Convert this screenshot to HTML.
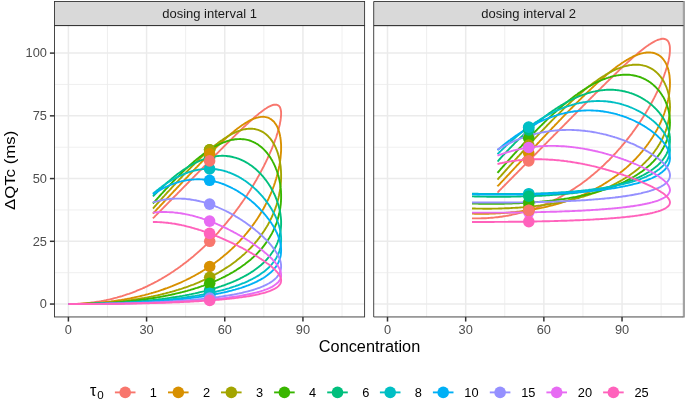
<!DOCTYPE html>
<html><head><meta charset="utf-8"><title>plot</title>
<style>
html,body{margin:0;padding:0;background:#fff;}
svg{display:block;will-change:transform;font-family:"Liberation Sans",sans-serif;}
.ax{font-size:12.8px;fill:#4D4D4D;}
.st{font-size:13px;fill:#1A1A1A;}
.lg{font-size:12.8px;fill:#000;}
.tt{font-size:16px;fill:#000;}
</style></head><body>
<svg width="685" height="400" viewBox="0 0 685 400">
<rect x="0" y="0" width="685" height="400" fill="#fff"/>
<defs>
<clipPath id="c1"><rect x="54.50" y="25.60" width="310.10" height="291.35"/></clipPath>
<clipPath id="c2"><rect x="373.70" y="25.60" width="309.80" height="291.35"/></clipPath>
</defs>
<g stroke="#EBEBEB" fill="none"><line x1="54.50" x2="364.60" y1="272.68" y2="272.68" stroke-width="0.78"/>
<line x1="54.50" x2="364.60" y1="209.94" y2="209.94" stroke-width="0.78"/>
<line x1="54.50" x2="364.60" y1="147.21" y2="147.21" stroke-width="0.78"/>
<line x1="54.50" x2="364.60" y1="84.47" y2="84.47" stroke-width="0.78"/>
<line x1="107.49" x2="107.49" y1="25.60" y2="316.95" stroke-width="0.78"/>
<line x1="185.67" x2="185.67" y1="25.60" y2="316.95" stroke-width="0.78"/>
<line x1="263.85" x2="263.85" y1="25.60" y2="316.95" stroke-width="0.78"/>
<line x1="342.03" x2="342.03" y1="25.60" y2="316.95" stroke-width="0.78"/>
<line x1="54.50" x2="364.60" y1="304.05" y2="304.05" stroke-width="1.5"/>
<line x1="54.50" x2="364.60" y1="241.31" y2="241.31" stroke-width="1.5"/>
<line x1="54.50" x2="364.60" y1="178.57" y2="178.57" stroke-width="1.5"/>
<line x1="54.50" x2="364.60" y1="115.84" y2="115.84" stroke-width="1.5"/>
<line x1="54.50" x2="364.60" y1="53.10" y2="53.10" stroke-width="1.5"/>
<line x1="68.40" x2="68.40" y1="25.60" y2="316.95" stroke-width="1.5"/>
<line x1="146.58" x2="146.58" y1="25.60" y2="316.95" stroke-width="1.5"/>
<line x1="224.76" x2="224.76" y1="25.60" y2="316.95" stroke-width="1.5"/>
<line x1="302.94" x2="302.94" y1="25.60" y2="316.95" stroke-width="1.5"/></g>
<g clip-path="url(#c1)" fill="none" stroke-width="1.89" stroke-linejoin="round" stroke-linecap="butt"><path d="M68.4 304.1 L69.9 304.0 L71.3 304.0 L72.7 304.0 L74.2 304.0 L75.6 303.9 L77.0 303.9 L78.4 303.8 L79.8 303.7 L81.2 303.6 L82.6 303.5 L83.9 303.4 L85.3 303.3 L86.6 303.2 L88.0 303.0 L89.3 302.9 L90.7 302.7 L92.0 302.5 L93.3 302.4 L94.6 302.2 L95.9 302.0 L97.2 301.8 L98.5 301.6 L99.7 301.4 L101.0 301.2 L102.3 300.9 L103.5 300.7 L104.8 300.4 L106.0 300.2 L107.2 299.9 L108.5 299.6 L109.7 299.4 L110.9 299.1 L112.1 298.8 L113.3 298.5 L114.4 298.2 L115.6 297.9 L116.8 297.6 L118.0 297.2 L119.1 296.9 L120.6 296.5 L122.0 296.1 L123.4 295.6 L124.8 295.2 L126.2 294.7 L127.6 294.2 L128.9 293.8 L130.3 293.3 L131.7 292.8 L133.0 292.3 L134.3 291.8 L135.6 291.3 L136.9 290.7 L138.2 290.2 L139.5 289.7 L140.8 289.1 L142.1 288.6 L143.3 288.0 L144.6 287.5 L145.8 286.9 L147.1 286.3 L148.3 285.7 L149.5 285.1 L150.7 284.5 L151.9 283.9 L153.1 283.3 L154.3 282.7 L155.4 282.1 L156.6 281.5 L157.7 280.9 L158.9 280.2 L160.0 279.6 L161.1 279.0 L162.2 278.3 L163.3 277.7 L164.4 277.0 L165.5 276.4 L166.6 275.7 L167.7 275.0 L168.7 274.4 L169.8 273.7 L170.8 273.0 L171.9 272.3 L172.9 271.7 L173.9 271.0 L174.9 270.3 L175.9 269.6 L176.9 268.9 L177.9 268.2 L178.9 267.5 L180.1 266.7 L181.2 265.8 L182.4 265.0 L183.5 264.1 L184.6 263.3 L185.8 262.4 L186.9 261.6 L188.0 260.7 L189.0 259.8 L190.1 259.0 L191.2 258.1 L192.2 257.2 L193.3 256.4 L194.3 255.5 L195.3 254.6 L196.3 253.8 L197.3 252.9 L198.3 252.0 L199.3 251.1 L200.3 250.2 L201.2 249.4 L202.2 248.5 L203.1 247.6 L204.1 246.7 L205.0 245.8 L205.9 245.0 L206.8 244.1 L207.7 243.2 L208.6 242.3 L209.5 241.4 L210.4 240.6 L211.3 239.7 L212.1 238.8 L213.0 237.9 L213.8 237.1 L214.6 236.2 L215.5 235.3 L216.4 234.3 L217.4 233.3 L218.3 232.3 L219.2 231.2 L220.1 230.2 L221.0 229.2 L221.9 228.2 L222.8 227.2 L223.6 226.2 L224.5 225.2 L225.3 224.2 L226.2 223.2 L227.0 222.2 L227.8 221.2 L228.6 220.2 L229.4 219.2 L230.2 218.3 L231.0 217.3 L231.8 216.3 L232.5 215.3 L233.3 214.4 L234.0 213.4 L234.8 212.4 L235.5 211.5 L236.3 210.4 L237.1 209.3 L237.9 208.2 L238.7 207.1 L239.5 206.1 L240.2 205.0 L241.0 203.9 L241.7 202.9 L242.5 201.8 L243.2 200.8 L243.9 199.8 L244.6 198.7 L245.3 197.7 L246.0 196.7 L246.6 195.7 L247.3 194.7 L248.0 193.5 L248.8 192.4 L249.5 191.3 L250.2 190.2 L250.9 189.1 L251.5 188.0 L252.2 186.9 L252.8 185.8 L253.5 184.8 L254.1 183.7 L254.7 182.7 L255.4 181.6 L256.0 180.5 L256.7 179.4 L257.3 178.2 L257.9 177.1 L258.6 176.0 L259.2 174.9 L259.8 173.8 L260.3 172.7 L260.9 171.7 L261.5 170.5 L262.1 169.4 L262.7 168.2 L263.3 167.1 L263.9 166.0 L264.4 164.9 L265.0 163.8 L265.5 162.6 L266.1 161.5 L266.6 160.4 L267.2 159.2 L267.7 158.1 L268.2 157.0 L268.7 155.8 L269.2 154.7 L269.7 153.6 L270.2 152.4 L270.7 151.3 L271.2 150.2 L271.7 149.0 L272.2 147.9 L272.6 146.7 L273.1 145.5 L273.5 144.4 L274.0 143.3 L274.4 142.1 L274.8 140.9 L275.2 139.8 L275.7 138.6 L276.1 137.5 L276.5 136.3 L276.8 135.1 L277.2 133.9 L277.6 132.8 L277.9 131.6 L278.3 130.4 L278.6 129.3 L278.9 128.1 L279.2 126.8 L279.5 125.6 L279.8 124.5 L280.0 123.2 L280.2 122.0 L280.5 120.8 L280.6 119.6 L280.8 118.4 L280.9 117.2 L281.0 116.0 L281.1 114.8 L281.1 113.6 L281.1 112.4 L281.0 111.2 L280.8 110.0 L280.5 108.8 L280.1 107.6 L279.5 106.6 L278.7 105.7 L277.7 105.1 L276.5 104.7 L275.3 104.6 L274.1 104.7 L272.9 105.0 L271.8 105.4 L270.7 105.9 L269.6 106.4 L268.5 106.9 L267.4 107.5 L266.4 108.2 L265.4 108.8 L264.4 109.5 L263.4 110.2 L262.4 110.9 L261.4 111.7 L260.5 112.4 L259.5 113.1 L258.6 113.9 L257.7 114.7 L256.7 115.4 L255.8 116.2 L254.9 117.0 L254.0 117.8 L253.1 118.6 L252.2 119.4 L251.3 120.2 L250.4 121.0 L249.5 121.8 L248.6 122.6 L247.7 123.5 L246.8 124.3 L245.9 125.1 L245.0 126.0 L244.1 126.8 L243.2 127.6 L242.3 128.5 L241.5 129.3 L240.6 130.2 L239.7 131.0 L238.8 131.8 L238.0 132.7 L237.1 133.5 L236.2 134.4 L235.4 135.2 L234.5 136.1 L233.6 136.9 L232.8 137.8 L231.9 138.6 L231.1 139.5 L230.2 140.3 L229.3 141.2 L228.5 142.0 L227.6 142.9 L226.8 143.7 L225.9 144.6 L225.0 145.4 L224.2 146.3 L223.3 147.1 L222.5 148.0 L221.6 148.9 L220.8 149.7 L219.9 150.6 L219.1 151.4 L218.2 152.3 L217.4 153.1 L216.5 154.0 L215.7 154.9 L214.8 155.7 L213.9 156.6 L213.1 157.4 L212.2 158.3 L211.4 159.2 L210.5 160.0 L209.7 160.9 L208.8 161.7 L208.0 162.6 L207.1 163.5 L206.3 164.3 L205.4 165.2 L204.6 166.0 L203.7 166.9 L202.9 167.8 L202.0 168.6 L201.2 169.5 L200.3 170.3 L199.5 171.2 L198.6 172.1 L197.8 172.9 L196.9 173.8 L196.1 174.6 L195.2 175.5 L194.4 176.4 L193.5 177.2 L192.7 178.1 L191.8 179.0 L191.0 179.8 L190.1 180.7 L189.3 181.5 L188.4 182.4 L187.6 183.3 L186.7 184.1 L185.9 185.0 L185.0 185.9 L184.2 186.7 L183.3 187.6 L182.5 188.4 L181.6 189.3 L180.8 190.2 L179.9 191.0 L179.1 191.9 L178.2 192.7 L177.4 193.6 L176.5 194.5 L175.7 195.3 L174.8 196.2 L174.0 197.0 L173.1 197.9 L172.3 198.8 L171.4 199.6 L170.6 200.5 L169.7 201.3 L168.9 202.2 L168.0 203.1 L167.2 203.9 L166.3 204.8 L165.5 205.6 L164.6 206.5 L163.8 207.3 L163.0 208.2 L162.1 209.1 L161.3 209.9 L160.4 210.8 L159.6 211.6 L158.7 212.5 L157.9 213.4 L157.0 214.2 L156.2 215.1 L155.3 215.9 L154.5 216.8 L153.6 217.7 L152.9 218.4" stroke="#F8766D"/>
<path d="M68.4 304.1 L69.9 304.0 L71.3 304.0 L72.7 304.0 L74.2 304.0 L75.6 304.0 L77.0 304.0 L78.4 303.9 L79.8 303.9 L81.2 303.8 L82.6 303.8 L83.9 303.7 L85.3 303.7 L86.6 303.6 L88.0 303.5 L89.3 303.4 L90.7 303.4 L92.0 303.3 L93.3 303.2 L94.6 303.1 L95.9 303.0 L97.2 302.9 L98.5 302.8 L99.7 302.7 L101.0 302.6 L102.3 302.4 L103.5 302.3 L104.8 302.2 L106.0 302.0 L107.2 301.9 L108.5 301.8 L109.7 301.6 L110.9 301.5 L112.1 301.3 L113.3 301.1 L114.7 300.9 L116.2 300.7 L117.7 300.5 L119.1 300.3 L120.6 300.1 L122.0 299.8 L123.4 299.6 L124.8 299.3 L126.2 299.1 L127.6 298.8 L128.9 298.6 L130.3 298.3 L131.7 298.0 L133.0 297.8 L134.3 297.5 L135.6 297.2 L136.9 296.9 L138.2 296.6 L139.5 296.3 L140.8 296.0 L142.1 295.7 L143.3 295.4 L144.6 295.1 L145.8 294.7 L147.1 294.4 L148.3 294.1 L149.5 293.7 L150.7 293.4 L151.9 293.0 L153.1 292.7 L154.3 292.3 L155.4 292.0 L156.6 291.6 L157.7 291.3 L159.1 290.8 L160.5 290.4 L161.8 289.9 L163.1 289.5 L164.4 289.0 L165.7 288.5 L167.0 288.1 L168.3 287.6 L169.6 287.1 L170.8 286.6 L172.1 286.1 L173.3 285.6 L174.5 285.1 L175.7 284.6 L176.9 284.1 L178.1 283.6 L179.3 283.1 L180.5 282.6 L181.6 282.1 L182.8 281.5 L183.9 281.0 L185.0 280.5 L186.1 280.0 L187.2 279.4 L188.3 278.9 L189.4 278.3 L190.5 277.8 L191.7 277.1 L192.9 276.5 L194.1 275.9 L195.3 275.2 L196.5 274.5 L197.7 273.9 L198.8 273.2 L200.0 272.6 L201.1 271.9 L202.2 271.2 L203.3 270.5 L204.4 269.9 L205.5 269.2 L206.5 268.5 L207.6 267.8 L208.6 267.1 L209.7 266.5 L210.7 265.8 L211.7 265.1 L212.7 264.4 L213.7 263.7 L214.8 262.9 L215.9 262.1 L217.0 261.3 L218.0 260.5 L219.1 259.7 L220.1 258.9 L221.1 258.1 L222.2 257.3 L223.1 256.4 L224.1 255.6 L225.1 254.8 L226.1 254.0 L227.0 253.2 L227.9 252.4 L228.9 251.6 L229.8 250.7 L230.7 249.9 L231.6 249.1 L232.5 248.2 L233.5 247.3 L234.5 246.3 L235.4 245.4 L236.3 244.5 L237.2 243.6 L238.1 242.7 L239.0 241.8 L239.9 240.8 L240.7 239.9 L241.5 239.0 L242.4 238.1 L243.2 237.2 L244.0 236.3 L244.8 235.4 L245.6 234.3 L246.5 233.3 L247.3 232.3 L248.1 231.3 L248.9 230.3 L249.7 229.3 L250.5 228.3 L251.2 227.3 L252.0 226.3 L252.7 225.3 L253.4 224.4 L254.1 223.4 L254.9 222.3 L255.6 221.2 L256.3 220.2 L257.1 219.1 L257.8 218.0 L258.4 217.0 L259.1 215.9 L259.8 214.9 L260.4 213.8 L261.0 212.8 L261.6 211.8 L262.3 210.6 L262.9 209.5 L263.6 208.4 L264.2 207.3 L264.8 206.2 L265.3 205.1 L265.9 204.0 L266.5 202.9 L267.0 201.8 L267.6 200.6 L268.2 199.5 L268.7 198.3 L269.2 197.2 L269.7 196.1 L270.2 195.0 L270.7 193.9 L271.2 192.7 L271.7 191.5 L272.1 190.4 L272.6 189.2 L273.0 188.1 L273.4 187.0 L273.9 185.8 L274.3 184.6 L274.7 183.4 L275.1 182.2 L275.4 181.1 L275.8 179.9 L276.2 178.7 L276.5 177.5 L276.9 176.3 L277.2 175.1 L277.5 173.9 L277.8 172.7 L278.1 171.5 L278.4 170.3 L278.7 169.1 L278.9 167.9 L279.1 166.7 L279.4 165.5 L279.6 164.3 L279.8 163.1 L280.0 161.8 L280.2 160.6 L280.3 159.4 L280.5 158.2 L280.6 157.0 L280.7 155.7 L280.8 154.5 L280.9 153.3 L281.0 152.1 L281.1 150.9 L281.1 149.6 L281.1 148.4 L281.1 147.2 L281.1 146.0 L281.1 144.7 L281.0 143.5 L280.9 142.3 L280.8 141.1 L280.7 139.8 L280.5 138.6 L280.4 137.4 L280.1 136.2 L279.9 135.0 L279.6 133.8 L279.3 132.6 L279.0 131.4 L278.6 130.3 L278.2 129.1 L277.8 128.0 L277.3 126.9 L276.7 125.8 L276.1 124.8 L275.4 123.7 L274.7 122.8 L274.0 121.8 L273.1 121.0 L272.2 120.2 L271.3 119.4 L270.2 118.8 L269.2 118.2 L268.0 117.7 L266.9 117.4 L265.7 117.1 L264.5 116.9 L263.3 116.8 L262.1 116.9 L260.9 116.9 L259.7 117.1 L258.5 117.3 L257.3 117.6 L256.2 117.9 L255.0 118.3 L253.9 118.7 L252.8 119.2 L251.7 119.7 L250.6 120.2 L249.5 120.7 L248.4 121.3 L247.4 121.9 L246.3 122.5 L245.3 123.1 L244.3 123.7 L243.3 124.4 L242.3 125.1 L241.3 125.8 L240.3 126.5 L239.3 127.2 L238.3 127.9 L237.4 128.6 L236.4 129.4 L235.5 130.1 L234.5 130.9 L233.6 131.7 L232.6 132.4 L231.7 133.2 L230.8 134.0 L229.9 134.8 L229.0 135.5 L228.1 136.3 L227.2 137.1 L226.3 137.9 L225.4 138.7 L224.5 139.6 L223.6 140.4 L222.7 141.2 L221.8 142.0 L220.9 142.9 L220.0 143.7 L219.2 144.5 L218.3 145.4 L217.4 146.2 L216.5 147.1 L215.7 147.9 L214.8 148.8 L213.9 149.6 L213.1 150.5 L212.2 151.3 L211.4 152.2 L210.5 153.0 L209.7 153.9 L208.8 154.7 L207.9 155.6 L207.1 156.4 L206.3 157.3 L205.4 158.2 L204.6 159.0 L203.7 159.9 L202.9 160.8 L202.0 161.6 L201.2 162.5 L200.3 163.4 L199.5 164.2 L198.7 165.1 L197.8 166.0 L197.0 166.9 L196.1 167.7 L195.3 168.6 L194.5 169.5 L193.6 170.3 L192.8 171.2 L192.0 172.1 L191.1 173.0 L190.3 173.8 L189.5 174.7 L188.6 175.6 L187.8 176.5 L187.0 177.4 L186.1 178.2 L185.3 179.1 L184.5 180.0 L183.6 180.9 L182.8 181.7 L182.0 182.6 L181.2 183.5 L180.3 184.4 L179.5 185.3 L178.7 186.1 L177.9 187.0 L177.0 187.9 L176.2 188.8 L175.4 189.7 L174.5 190.5 L173.7 191.4 L172.9 192.3 L172.1 193.2 L171.2 194.1 L170.4 194.9 L169.6 195.8 L168.8 196.7 L167.9 197.6 L167.1 198.5 L166.3 199.3 L165.5 200.2 L164.6 201.1 L163.8 202.0 L163.0 202.9 L162.2 203.8 L161.3 204.6 L160.5 205.5 L159.7 206.4 L158.9 207.3 L158.0 208.2 L157.2 209.0 L156.4 209.9 L155.6 210.8 L154.7 211.7 L153.9 212.6 L153.1 213.4 L152.9 213.6" stroke="#D89000"/>
<path d="M68.4 304.1 L69.9 304.0 L71.3 304.0 L72.7 304.0 L74.2 304.0 L75.6 304.0 L77.0 304.0 L78.4 304.0 L79.8 303.9 L81.2 303.9 L82.6 303.9 L83.9 303.8 L85.3 303.8 L86.6 303.7 L88.0 303.7 L89.3 303.6 L90.7 303.6 L92.0 303.5 L93.3 303.5 L94.6 303.4 L95.9 303.3 L97.2 303.3 L98.5 303.2 L99.7 303.1 L101.0 303.0 L102.3 303.0 L103.5 302.9 L104.8 302.8 L106.0 302.7 L107.2 302.6 L108.5 302.5 L109.7 302.4 L110.9 302.3 L112.1 302.2 L113.6 302.1 L115.0 301.9 L116.5 301.8 L118.0 301.6 L119.4 301.5 L120.8 301.3 L122.3 301.2 L123.7 301.0 L125.1 300.8 L126.5 300.6 L127.8 300.5 L129.2 300.3 L130.6 300.1 L131.9 299.9 L133.3 299.7 L134.6 299.5 L135.9 299.3 L137.2 299.1 L138.5 298.9 L139.8 298.7 L141.1 298.5 L142.3 298.3 L143.6 298.1 L144.8 297.8 L146.1 297.6 L147.3 297.4 L148.5 297.1 L149.7 296.9 L150.9 296.7 L152.1 296.4 L153.3 296.2 L154.7 295.9 L156.1 295.6 L157.5 295.3 L158.9 295.0 L160.2 294.7 L161.6 294.3 L162.9 294.0 L164.2 293.7 L165.5 293.4 L166.8 293.0 L168.1 292.7 L169.4 292.4 L170.6 292.0 L171.9 291.7 L173.1 291.3 L174.3 291.0 L175.5 290.6 L176.7 290.2 L177.9 289.9 L179.1 289.5 L180.3 289.1 L181.4 288.8 L182.6 288.4 L183.9 287.9 L185.2 287.5 L186.5 287.1 L187.8 286.6 L189.0 286.1 L190.3 285.7 L191.5 285.2 L192.7 284.8 L194.0 284.3 L195.1 283.8 L196.3 283.3 L197.5 282.9 L198.7 282.4 L199.8 281.9 L200.9 281.4 L202.0 280.9 L203.1 280.4 L204.4 279.8 L205.6 279.3 L206.8 278.7 L208.0 278.1 L209.2 277.5 L210.4 277.0 L211.5 276.4 L212.7 275.8 L213.8 275.2 L214.9 274.6 L216.0 274.0 L217.1 273.4 L218.2 272.8 L219.2 272.2 L220.2 271.6 L221.4 270.9 L222.5 270.2 L223.6 269.5 L224.7 268.8 L225.8 268.1 L226.9 267.4 L227.9 266.8 L229.0 266.1 L230.0 265.4 L231.0 264.7 L232.0 263.9 L233.0 263.2 L234.0 262.5 L235.1 261.7 L236.1 260.9 L237.1 260.1 L238.1 259.3 L239.1 258.5 L240.0 257.7 L241.0 256.9 L241.9 256.1 L242.8 255.3 L243.8 254.5 L244.8 253.6 L245.7 252.7 L246.6 251.8 L247.5 251.0 L248.4 250.1 L249.3 249.2 L250.2 248.3 L251.0 247.5 L251.9 246.5 L252.8 245.6 L253.6 244.6 L254.5 243.6 L255.3 242.7 L256.1 241.7 L256.9 240.8 L257.6 239.9 L258.4 238.9 L259.2 237.9 L259.9 236.9 L260.7 235.9 L261.4 234.8 L262.1 233.8 L262.8 232.8 L263.5 231.8 L264.2 230.8 L264.9 229.7 L265.6 228.6 L266.2 227.5 L266.9 226.5 L267.5 225.4 L268.1 224.4 L268.7 223.2 L269.3 222.1 L269.9 221.0 L270.4 219.9 L271.0 218.8 L271.5 217.7 L272.0 216.6 L272.5 215.5 L273.0 214.3 L273.5 213.2 L273.9 212.0 L274.4 210.9 L274.8 209.7 L275.3 208.6 L275.7 207.4 L276.1 206.2 L276.5 205.1 L276.8 203.9 L277.2 202.7 L277.5 201.5 L277.9 200.3 L278.2 199.1 L278.5 197.9 L278.7 196.7 L279.0 195.5 L279.2 194.3 L279.5 193.1 L279.7 191.8 L279.9 190.6 L280.1 189.4 L280.3 188.2 L280.4 187.0 L280.6 185.7 L280.7 184.5 L280.8 183.3 L280.9 182.1 L281.0 180.9 L281.0 179.6 L281.1 178.4 L281.1 177.2 L281.1 176.0 L281.1 174.8 L281.1 173.5 L281.0 172.3 L281.0 171.1 L280.9 169.8 L280.8 168.6 L280.7 167.4 L280.6 166.2 L280.4 165.0 L280.2 163.8 L280.1 162.5 L279.8 161.4 L279.6 160.1 L279.4 159.0 L279.1 157.8 L278.8 156.6 L278.5 155.4 L278.1 154.3 L277.8 153.1 L277.4 151.9 L277.0 150.8 L276.5 149.7 L276.1 148.5 L275.6 147.4 L275.1 146.3 L274.5 145.3 L274.0 144.2 L273.4 143.1 L272.7 142.1 L272.1 141.1 L271.4 140.1 L270.7 139.1 L269.9 138.2 L269.1 137.3 L268.3 136.4 L267.4 135.5 L266.5 134.7 L265.6 133.9 L264.6 133.2 L263.6 132.5 L262.6 131.9 L261.5 131.3 L260.5 130.8 L259.3 130.3 L258.2 129.9 L257.0 129.6 L255.9 129.3 L254.7 129.0 L253.5 128.9 L252.3 128.8 L251.1 128.7 L249.9 128.7 L248.7 128.8 L247.5 128.9 L246.2 129.0 L245.1 129.2 L243.9 129.4 L242.7 129.7 L241.5 130.0 L240.4 130.4 L239.2 130.8 L238.1 131.2 L237.0 131.6 L235.9 132.1 L234.8 132.6 L233.7 133.1 L232.6 133.6 L231.5 134.2 L230.4 134.8 L229.4 135.4 L228.3 136.0 L227.3 136.6 L226.3 137.2 L225.3 137.9 L224.3 138.5 L223.2 139.2 L222.3 139.9 L221.3 140.6 L220.3 141.3 L219.3 142.0 L218.3 142.8 L217.4 143.5 L216.4 144.2 L215.4 145.0 L214.5 145.8 L213.5 146.5 L212.6 147.3 L211.7 148.1 L210.7 148.9 L209.8 149.6 L208.9 150.4 L208.0 151.2 L207.1 152.0 L206.2 152.8 L205.3 153.6 L204.4 154.5 L203.5 155.3 L202.6 156.1 L201.7 156.9 L200.9 157.7 L200.0 158.6 L199.1 159.4 L198.2 160.3 L197.4 161.1 L196.5 161.9 L195.6 162.8 L194.8 163.6 L193.9 164.5 L193.1 165.3 L192.2 166.2 L191.4 167.0 L190.5 167.9 L189.7 168.8 L188.8 169.6 L188.0 170.5 L187.1 171.4 L186.3 172.2 L185.5 173.1 L184.6 174.0 L183.8 174.8 L182.9 175.7 L182.1 176.6 L181.3 177.5 L180.5 178.3 L179.6 179.2 L178.8 180.1 L178.0 181.0 L177.1 181.9 L176.3 182.7 L175.5 183.6 L174.7 184.5 L173.8 185.4 L173.0 186.3 L172.2 187.2 L171.4 188.1 L170.6 189.0 L169.8 189.9 L168.9 190.8 L168.1 191.6 L167.3 192.5 L166.5 193.4 L165.7 194.3 L164.9 195.2 L164.1 196.1 L163.2 197.0 L162.4 197.9 L161.6 198.8 L160.8 199.7 L160.0 200.6 L159.2 201.5 L158.4 202.4 L157.6 203.3 L156.8 204.2 L156.0 205.1 L155.2 206.0 L154.4 206.9 L153.6 207.8 L152.9 208.5" stroke="#A3A500"/>
<path d="M68.4 304.1 L69.9 304.0 L71.3 304.0 L72.7 304.0 L74.2 304.0 L75.6 304.0 L77.0 304.0 L78.4 304.0 L79.8 304.0 L81.2 303.9 L82.6 303.9 L83.9 303.9 L85.3 303.9 L86.6 303.8 L88.0 303.8 L89.3 303.7 L90.7 303.7 L92.0 303.7 L93.3 303.6 L94.6 303.6 L95.9 303.5 L97.2 303.5 L98.5 303.4 L99.7 303.4 L101.0 303.3 L102.3 303.2 L103.5 303.2 L104.8 303.1 L106.0 303.0 L107.2 303.0 L108.5 302.9 L109.7 302.8 L110.9 302.7 L112.1 302.6 L113.6 302.5 L115.0 302.4 L116.5 302.3 L118.0 302.2 L119.4 302.1 L120.8 302.0 L122.3 301.9 L123.7 301.7 L125.1 301.6 L126.5 301.5 L127.8 301.3 L129.2 301.2 L130.6 301.1 L131.9 300.9 L133.3 300.8 L134.6 300.6 L135.9 300.5 L137.2 300.3 L138.5 300.2 L139.8 300.0 L141.1 299.8 L142.3 299.7 L143.6 299.5 L144.8 299.3 L146.1 299.2 L147.3 299.0 L148.5 298.8 L149.7 298.6 L150.9 298.4 L152.1 298.2 L153.6 298.0 L155.0 297.8 L156.4 297.6 L157.7 297.3 L159.1 297.1 L160.5 296.8 L161.8 296.6 L163.1 296.3 L164.4 296.1 L165.7 295.8 L167.0 295.6 L168.3 295.3 L169.6 295.1 L170.8 294.8 L172.1 294.5 L173.3 294.2 L174.5 294.0 L175.7 293.7 L176.9 293.4 L178.1 293.1 L179.3 292.8 L180.7 292.5 L182.0 292.2 L183.3 291.8 L184.6 291.5 L185.9 291.1 L187.2 290.8 L188.5 290.4 L189.8 290.1 L191.0 289.7 L192.2 289.3 L193.4 289.0 L194.6 288.6 L195.8 288.2 L197.0 287.9 L198.2 287.5 L199.3 287.1 L200.6 286.7 L201.9 286.2 L203.1 285.8 L204.4 285.3 L205.6 284.9 L206.8 284.4 L208.0 284.0 L209.2 283.5 L210.4 283.0 L211.5 282.6 L212.7 282.1 L213.8 281.6 L214.9 281.2 L216.1 280.6 L217.4 280.1 L218.5 279.6 L219.7 279.0 L220.9 278.5 L222.0 277.9 L223.1 277.4 L224.3 276.8 L225.3 276.3 L226.4 275.7 L227.6 275.1 L228.8 274.5 L229.9 273.8 L231.0 273.2 L232.1 272.6 L233.2 272.0 L234.2 271.3 L235.3 270.7 L236.3 270.1 L237.4 269.3 L238.5 268.6 L239.6 267.9 L240.6 267.2 L241.6 266.5 L242.6 265.8 L243.6 265.1 L244.6 264.4 L245.6 263.6 L246.6 262.8 L247.6 262.0 L248.6 261.2 L249.5 260.5 L250.5 259.7 L251.4 258.9 L252.3 258.0 L253.3 257.2 L254.2 256.3 L255.1 255.5 L256.0 254.6 L256.8 253.8 L257.7 252.9 L258.6 251.9 L259.4 251.0 L260.2 250.1 L261.0 249.2 L261.8 248.3 L262.6 247.3 L263.4 246.3 L264.2 245.3 L264.9 244.4 L265.6 243.4 L266.4 242.4 L267.1 241.3 L267.8 240.3 L268.4 239.3 L269.1 238.3 L269.7 237.2 L270.4 236.1 L271.0 235.0 L271.6 234.0 L272.2 232.9 L272.7 231.8 L273.3 230.7 L273.8 229.5 L274.3 228.4 L274.8 227.3 L275.3 226.2 L275.7 225.0 L276.2 223.9 L276.6 222.8 L277.0 221.6 L277.4 220.4 L277.7 219.2 L278.1 218.1 L278.4 216.8 L278.7 215.6 L279.0 214.4 L279.3 213.3 L279.5 212.1 L279.8 210.9 L280.0 209.7 L280.2 208.5 L280.4 207.2 L280.5 206.0 L280.7 204.8 L280.8 203.6 L280.9 202.3 L281.0 201.1 L281.0 199.9 L281.1 198.7 L281.1 197.5 L281.1 196.2 L281.1 195.0 L281.1 193.8 L281.0 192.6 L281.0 191.4 L280.9 190.1 L280.8 188.9 L280.6 187.7 L280.5 186.5 L280.3 185.3 L280.2 184.1 L280.0 182.9 L279.7 181.7 L279.5 180.5 L279.2 179.3 L279.0 178.1 L278.7 176.9 L278.4 175.7 L278.0 174.5 L277.7 173.4 L277.3 172.2 L276.9 171.0 L276.5 169.9 L276.0 168.8 L275.6 167.6 L275.1 166.5 L274.6 165.4 L274.1 164.3 L273.6 163.2 L273.0 162.1 L272.5 161.1 L271.9 160.0 L271.2 159.0 L270.6 157.9 L269.9 156.9 L269.2 155.9 L268.5 154.9 L267.8 154.0 L267.1 153.0 L266.3 152.1 L265.5 151.2 L264.7 150.3 L263.8 149.4 L263.0 148.6 L262.1 147.8 L261.2 147.0 L260.2 146.2 L259.2 145.5 L258.3 144.8 L257.3 144.1 L256.2 143.5 L255.2 142.9 L254.1 142.4 L253.0 141.8 L251.9 141.4 L250.7 140.9 L249.6 140.5 L248.5 140.2 L247.3 139.9 L246.1 139.6 L244.9 139.4 L243.7 139.3 L242.5 139.2 L241.3 139.1 L240.1 139.0 L238.9 139.1 L237.7 139.1 L236.5 139.2 L235.3 139.3 L234.1 139.5 L232.9 139.7 L231.7 139.9 L230.5 140.2 L229.4 140.5 L228.2 140.8 L227.0 141.2 L225.9 141.6 L224.8 142.0 L223.6 142.4 L222.5 142.8 L221.4 143.3 L220.3 143.8 L219.2 144.3 L218.1 144.9 L217.0 145.4 L216.0 146.0 L214.9 146.6 L213.9 147.2 L212.8 147.8 L211.8 148.4 L210.8 149.0 L209.8 149.7 L208.7 150.4 L207.7 151.0 L206.7 151.7 L205.7 152.4 L204.8 153.1 L203.8 153.8 L202.8 154.5 L201.9 155.3 L200.9 156.0 L199.9 156.7 L199.0 157.5 L198.1 158.2 L197.1 159.0 L196.2 159.8 L195.3 160.6 L194.3 161.3 L193.4 162.1 L192.5 162.9 L191.6 163.7 L190.7 164.5 L189.8 165.3 L188.9 166.1 L188.0 166.9 L187.1 167.8 L186.2 168.6 L185.3 169.4 L184.5 170.2 L183.6 171.1 L182.7 171.9 L181.9 172.8 L181.0 173.6 L180.1 174.4 L179.3 175.3 L178.4 176.2 L177.5 177.0 L176.7 177.9 L175.8 178.7 L175.0 179.6 L174.2 180.5 L173.3 181.3 L172.5 182.2 L171.6 183.1 L170.8 183.9 L170.0 184.8 L169.1 185.7 L168.3 186.6 L167.5 187.5 L166.7 188.3 L165.8 189.2 L165.0 190.1 L164.2 191.0 L163.4 191.9 L162.6 192.8 L161.7 193.7 L160.9 194.6 L160.1 195.5 L159.3 196.4 L158.5 197.3 L157.7 198.2 L156.9 199.1 L156.1 200.0 L155.3 200.9 L154.5 201.8 L153.7 202.7 L152.9 203.5" stroke="#39B600"/>
<path d="M68.4 304.1 L69.9 304.0 L71.3 304.0 L72.7 304.0 L74.2 304.0 L75.6 304.0 L77.0 304.0 L78.4 304.0 L79.8 304.0 L81.2 304.0 L82.6 304.0 L83.9 303.9 L85.3 303.9 L86.6 303.9 L88.0 303.9 L89.3 303.8 L90.7 303.8 L92.0 303.8 L93.3 303.8 L94.6 303.7 L95.9 303.7 L97.2 303.7 L98.5 303.6 L99.7 303.6 L101.0 303.5 L102.3 303.5 L103.5 303.5 L104.8 303.4 L106.0 303.4 L107.2 303.3 L108.5 303.3 L109.7 303.2 L110.9 303.2 L112.1 303.1 L113.6 303.0 L115.0 303.0 L116.5 302.9 L118.0 302.8 L119.4 302.7 L120.8 302.7 L122.3 302.6 L123.7 302.5 L125.1 302.4 L126.5 302.3 L127.8 302.2 L129.2 302.1 L130.6 302.0 L131.9 301.9 L133.3 301.8 L134.6 301.7 L135.9 301.6 L137.2 301.5 L138.5 301.4 L139.8 301.3 L141.1 301.2 L142.3 301.1 L143.6 301.0 L144.8 300.9 L146.1 300.7 L147.3 300.6 L148.5 300.5 L149.7 300.4 L150.9 300.2 L152.4 300.1 L153.8 299.9 L155.2 299.8 L156.6 299.6 L158.0 299.5 L159.3 299.3 L160.7 299.1 L162.0 299.0 L163.3 298.8 L164.7 298.6 L166.0 298.4 L167.2 298.3 L168.5 298.1 L169.8 297.9 L171.0 297.7 L172.3 297.5 L173.5 297.3 L174.7 297.2 L175.9 297.0 L177.1 296.8 L178.3 296.6 L179.7 296.3 L181.0 296.1 L182.4 295.9 L183.7 295.6 L185.0 295.4 L186.3 295.1 L187.6 294.9 L188.9 294.7 L190.1 294.4 L191.3 294.2 L192.6 293.9 L193.8 293.6 L195.0 293.4 L196.2 293.1 L197.5 292.8 L198.8 292.5 L200.1 292.2 L201.4 291.9 L202.7 291.6 L203.9 291.3 L205.2 291.0 L206.4 290.6 L207.6 290.3 L208.8 290.0 L210.0 289.7 L211.1 289.4 L212.4 289.0 L213.7 288.6 L214.9 288.2 L216.1 287.9 L217.4 287.5 L218.5 287.1 L219.7 286.7 L220.9 286.3 L222.0 285.9 L223.3 285.5 L224.5 285.1 L225.7 284.6 L226.9 284.2 L228.1 283.7 L229.2 283.3 L230.3 282.9 L231.6 282.4 L232.8 281.9 L233.9 281.4 L235.1 280.9 L236.2 280.4 L237.3 279.8 L238.4 279.3 L239.6 278.8 L240.7 278.2 L241.8 277.7 L242.9 277.1 L244.0 276.5 L245.1 275.9 L246.2 275.3 L247.3 274.7 L248.4 274.1 L249.4 273.4 L250.5 272.8 L251.5 272.1 L252.6 271.4 L253.6 270.7 L254.6 270.0 L255.6 269.3 L256.6 268.6 L257.6 267.8 L258.6 267.1 L259.5 266.3 L260.5 265.5 L261.4 264.7 L262.4 263.8 L263.3 263.0 L264.1 262.2 L265.0 261.3 L265.9 260.4 L266.7 259.5 L267.5 258.6 L268.3 257.7 L269.1 256.8 L269.9 255.8 L270.6 254.8 L271.3 253.8 L272.0 252.8 L272.7 251.8 L273.4 250.8 L274.0 249.7 L274.6 248.7 L275.2 247.6 L275.8 246.5 L276.3 245.4 L276.8 244.3 L277.3 243.1 L277.7 242.0 L278.1 240.8 L278.5 239.7 L278.9 238.5 L279.2 237.4 L279.5 236.2 L279.8 235.0 L280.1 233.8 L280.3 232.6 L280.5 231.4 L280.7 230.2 L280.8 229.0 L280.9 227.8 L281.0 226.5 L281.1 225.3 L281.1 224.1 L281.1 222.9 L281.1 221.7 L281.1 220.5 L281.0 219.3 L280.9 218.0 L280.8 216.8 L280.6 215.6 L280.5 214.4 L280.3 213.2 L280.1 212.0 L279.8 210.8 L279.6 209.6 L279.3 208.4 L279.0 207.2 L278.7 206.0 L278.4 204.9 L278.0 203.7 L277.6 202.6 L277.2 201.4 L276.8 200.3 L276.4 199.1 L275.9 198.0 L275.5 196.9 L275.0 195.7 L274.5 194.6 L274.0 193.5 L273.4 192.4 L272.9 191.4 L272.3 190.3 L271.7 189.2 L271.1 188.1 L270.5 187.1 L269.9 186.1 L269.2 185.0 L268.6 184.0 L267.9 183.0 L267.2 182.0 L266.5 181.0 L265.8 180.0 L265.0 179.1 L264.3 178.1 L263.5 177.2 L262.7 176.2 L261.9 175.3 L261.1 174.4 L260.3 173.5 L259.4 172.7 L258.6 171.8 L257.7 171.0 L256.8 170.1 L255.9 169.3 L255.0 168.5 L254.0 167.8 L253.1 167.0 L252.2 166.3 L251.2 165.6 L250.2 164.9 L249.2 164.2 L248.2 163.5 L247.1 162.9 L246.1 162.3 L245.0 161.7 L244.0 161.1 L242.9 160.6 L241.8 160.1 L240.7 159.6 L239.5 159.1 L238.4 158.7 L237.3 158.3 L236.1 157.9 L234.9 157.6 L233.8 157.3 L232.6 157.0 L231.4 156.7 L230.2 156.5 L229.0 156.3 L227.9 156.2 L226.7 156.0 L225.4 155.9 L224.2 155.9 L223.0 155.8 L221.8 155.8 L220.6 155.9 L219.4 155.9 L218.2 156.0 L217.0 156.1 L215.8 156.3 L214.6 156.4 L213.4 156.6 L212.2 156.9 L211.1 157.1 L209.9 157.4 L208.7 157.7 L207.6 158.0 L206.4 158.4 L205.2 158.7 L204.1 159.1 L203.0 159.5 L201.8 160.0 L200.7 160.4 L199.6 160.9 L198.5 161.4 L197.4 161.9 L196.3 162.4 L195.2 162.9 L194.1 163.4 L193.1 164.0 L192.0 164.6 L191.0 165.2 L189.9 165.8 L188.9 166.4 L187.8 167.0 L186.8 167.7 L185.8 168.3 L184.8 169.0 L183.8 169.6 L182.8 170.3 L181.8 171.0 L180.8 171.7 L179.8 172.4 L178.9 173.1 L177.9 173.8 L176.9 174.6 L176.0 175.3 L175.0 176.1 L174.1 176.8 L173.2 177.6 L172.2 178.3 L171.3 179.1 L170.4 179.9 L169.5 180.7 L168.5 181.4 L167.6 182.2 L166.7 183.0 L165.8 183.8 L164.9 184.7 L164.0 185.5 L163.2 186.3 L162.3 187.1 L161.4 188.0 L160.5 188.8 L159.7 189.6 L158.8 190.5 L157.9 191.3 L157.1 192.2 L156.2 193.0 L155.4 193.9 L154.5 194.7 L153.7 195.6 L152.9 196.4" stroke="#00BF7D"/>
<path d="M68.4 304.1 L69.9 304.0 L71.3 304.0 L72.7 304.0 L74.2 304.0 L75.6 304.0 L77.0 304.0 L78.4 304.0 L79.8 304.0 L81.2 304.0 L82.6 304.0 L83.9 304.0 L85.3 304.0 L86.6 303.9 L88.0 303.9 L89.3 303.9 L90.7 303.9 L92.0 303.9 L93.3 303.8 L94.6 303.8 L95.9 303.8 L97.2 303.8 L98.5 303.7 L99.7 303.7 L101.0 303.7 L102.3 303.6 L103.5 303.6 L104.8 303.6 L106.0 303.5 L107.2 303.5 L108.5 303.5 L109.7 303.4 L110.9 303.4 L112.4 303.3 L113.9 303.3 L115.3 303.2 L116.8 303.2 L118.3 303.1 L119.7 303.0 L121.1 303.0 L122.5 302.9 L124.0 302.9 L125.4 302.8 L126.7 302.7 L128.1 302.7 L129.5 302.6 L130.8 302.5 L132.2 302.4 L133.5 302.4 L134.8 302.3 L136.2 302.2 L137.5 302.1 L138.8 302.0 L140.1 302.0 L141.3 301.9 L142.6 301.8 L143.8 301.7 L145.1 301.6 L146.3 301.5 L147.6 301.4 L148.8 301.3 L150.0 301.3 L151.2 301.2 L152.6 301.0 L154.0 300.9 L155.4 300.8 L156.8 300.7 L158.2 300.6 L159.6 300.4 L160.9 300.3 L162.2 300.2 L163.6 300.0 L164.9 299.9 L166.2 299.8 L167.5 299.6 L168.7 299.5 L170.0 299.4 L171.3 299.2 L172.5 299.1 L173.7 298.9 L174.9 298.8 L176.1 298.6 L177.3 298.5 L178.7 298.3 L180.1 298.1 L181.4 298.0 L182.8 297.8 L184.1 297.6 L185.4 297.4 L186.7 297.2 L188.0 297.0 L189.2 296.9 L190.5 296.7 L191.7 296.5 L192.9 296.3 L194.1 296.1 L195.3 295.9 L196.7 295.6 L198.0 295.4 L199.3 295.2 L200.6 294.9 L201.9 294.7 L203.1 294.5 L204.4 294.2 L205.6 294.0 L206.8 293.7 L208.0 293.5 L209.2 293.2 L210.5 293.0 L211.8 292.7 L213.1 292.4 L214.4 292.1 L215.6 291.8 L216.8 291.5 L218.0 291.2 L219.2 290.9 L220.4 290.6 L221.6 290.3 L222.9 290.0 L224.1 289.6 L225.3 289.3 L226.5 288.9 L227.7 288.6 L228.9 288.3 L230.1 287.9 L231.3 287.5 L232.5 287.1 L233.7 286.7 L234.9 286.3 L236.0 285.9 L237.2 285.5 L238.4 285.1 L239.6 284.6 L240.7 284.2 L241.9 283.7 L243.1 283.2 L244.2 282.8 L245.4 282.3 L246.5 281.8 L247.6 281.3 L248.8 280.7 L249.9 280.2 L251.0 279.6 L252.1 279.1 L253.2 278.5 L254.3 277.9 L255.4 277.3 L256.4 276.7 L257.5 276.1 L258.6 275.4 L259.6 274.7 L260.6 274.0 L261.6 273.3 L262.6 272.6 L263.6 271.9 L264.6 271.2 L265.5 270.4 L266.5 269.6 L267.4 268.8 L268.3 268.0 L269.2 267.1 L270.0 266.2 L270.9 265.3 L271.7 264.4 L272.4 263.5 L273.2 262.5 L273.9 261.6 L274.7 260.6 L275.3 259.5 L276.0 258.5 L276.6 257.4 L277.1 256.4 L277.7 255.2 L278.2 254.1 L278.7 253.0 L279.1 251.9 L279.5 250.7 L279.8 249.5 L280.1 248.4 L280.4 247.2 L280.6 246.0 L280.8 244.8 L280.9 243.6 L281.0 242.3 L281.1 241.1 L281.1 239.9 L281.1 238.7 L281.1 237.5 L281.0 236.3 L280.9 235.1 L280.8 233.8 L280.6 232.6 L280.4 231.5 L280.1 230.2 L279.9 229.0 L279.6 227.9 L279.3 226.7 L279.0 225.5 L278.6 224.4 L278.2 223.2 L277.8 222.1 L277.4 220.9 L276.9 219.8 L276.5 218.7 L276.0 217.5 L275.5 216.4 L275.0 215.3 L274.4 214.2 L273.9 213.2 L273.3 212.1 L272.7 211.0 L272.1 210.0 L271.5 208.9 L270.8 207.9 L270.2 206.9 L269.5 205.9 L268.8 204.8 L268.1 203.8 L267.4 202.9 L266.7 201.9 L266.0 200.9 L265.3 199.9 L264.5 199.0 L263.7 198.0 L263.0 197.1 L262.2 196.2 L261.4 195.3 L260.6 194.4 L259.7 193.5 L258.9 192.6 L258.1 191.7 L257.2 190.9 L256.4 190.0 L255.5 189.2 L254.6 188.4 L253.7 187.6 L252.8 186.8 L251.9 186.0 L250.9 185.2 L250.0 184.4 L249.0 183.7 L248.1 183.0 L247.1 182.2 L246.1 181.5 L245.1 180.8 L244.1 180.2 L243.1 179.5 L242.1 178.9 L241.1 178.2 L240.0 177.6 L239.0 177.0 L237.9 176.4 L236.8 175.9 L235.7 175.3 L234.7 174.8 L233.6 174.3 L232.5 173.8 L231.3 173.3 L230.2 172.9 L229.1 172.5 L227.9 172.1 L226.8 171.7 L225.6 171.3 L224.5 171.0 L223.3 170.7 L222.1 170.4 L221.0 170.1 L219.8 169.9 L218.6 169.7 L217.4 169.5 L216.2 169.3 L215.0 169.2 L213.8 169.1 L212.6 169.0 L211.4 168.9 L210.2 168.9 L209.0 168.8 L207.8 168.9 L206.6 168.9 L205.3 168.9 L204.2 169.0 L202.9 169.1 L201.7 169.3 L200.6 169.4 L199.4 169.6 L198.2 169.8 L197.0 170.0 L195.8 170.3 L194.6 170.5 L193.5 170.8 L192.3 171.1 L191.1 171.5 L190.0 171.8 L188.8 172.2 L187.7 172.6 L186.5 173.0 L185.4 173.4 L184.3 173.8 L183.2 174.3 L182.1 174.8 L181.0 175.3 L179.9 175.8 L178.8 176.3 L177.7 176.8 L176.6 177.4 L175.6 177.9 L174.5 178.5 L173.5 179.1 L172.4 179.7 L171.4 180.3 L170.3 180.9 L169.3 181.6 L168.3 182.2 L167.3 182.9 L166.3 183.5 L165.3 184.2 L164.3 184.9 L163.3 185.6 L162.3 186.3 L161.4 187.0 L160.4 187.7 L159.4 188.5 L158.5 189.2 L157.5 189.9 L156.6 190.7 L155.7 191.5 L154.7 192.2 L153.8 193.0 L152.9 193.7" stroke="#00BFC4"/>
<path d="M68.4 304.1 L69.9 304.0 L71.3 304.0 L72.7 304.0 L74.2 304.0 L75.6 304.0 L77.0 304.0 L78.4 304.0 L79.8 304.0 L81.2 304.0 L82.6 304.0 L83.9 304.0 L85.3 304.0 L86.6 304.0 L88.0 303.9 L89.3 303.9 L90.7 303.9 L92.0 303.9 L93.3 303.9 L94.6 303.9 L95.9 303.8 L97.2 303.8 L98.5 303.8 L99.7 303.8 L101.0 303.7 L102.3 303.7 L103.5 303.7 L104.8 303.7 L106.0 303.6 L107.2 303.6 L108.5 303.6 L109.7 303.5 L110.9 303.5 L112.4 303.5 L113.9 303.4 L115.3 303.4 L116.8 303.3 L118.3 303.3 L119.7 303.2 L121.1 303.2 L122.5 303.1 L124.0 303.1 L125.4 303.0 L126.7 303.0 L128.1 302.9 L129.5 302.9 L130.8 302.8 L132.2 302.8 L133.5 302.7 L134.8 302.6 L136.2 302.6 L137.5 302.5 L138.8 302.4 L140.1 302.4 L141.3 302.3 L142.6 302.2 L143.8 302.2 L145.1 302.1 L146.3 302.0 L147.6 302.0 L148.8 301.9 L150.0 301.8 L151.2 301.7 L152.6 301.6 L154.0 301.5 L155.4 301.4 L156.8 301.3 L158.2 301.2 L159.6 301.1 L160.9 301.0 L162.2 300.9 L163.6 300.8 L164.9 300.7 L166.2 300.6 L167.5 300.5 L168.7 300.4 L170.0 300.3 L171.3 300.2 L172.5 300.1 L173.7 299.9 L174.9 299.8 L176.1 299.7 L177.3 299.6 L178.7 299.4 L180.1 299.3 L181.4 299.1 L182.8 299.0 L184.1 298.9 L185.4 298.7 L186.7 298.6 L188.0 298.4 L189.2 298.2 L190.5 298.1 L191.7 297.9 L192.9 297.8 L194.1 297.6 L195.3 297.5 L196.7 297.3 L198.0 297.1 L199.3 296.9 L200.6 296.7 L201.9 296.5 L203.1 296.3 L204.4 296.1 L205.6 295.9 L206.8 295.7 L208.0 295.5 L209.2 295.3 L210.5 295.1 L211.8 294.9 L213.1 294.6 L214.4 294.4 L215.6 294.2 L216.8 293.9 L218.0 293.7 L219.2 293.4 L220.5 293.2 L221.8 292.9 L223.0 292.6 L224.3 292.3 L225.5 292.1 L226.7 291.8 L227.8 291.5 L229.1 291.2 L230.3 290.9 L231.6 290.6 L232.8 290.2 L233.9 289.9 L235.2 289.6 L236.4 289.2 L237.6 288.9 L238.8 288.5 L239.9 288.2 L241.2 287.8 L242.4 287.4 L243.5 287.0 L244.7 286.6 L245.9 286.2 L247.1 285.7 L248.2 285.3 L249.4 284.8 L250.5 284.4 L251.7 283.9 L252.8 283.4 L254.0 282.9 L255.1 282.4 L256.2 281.9 L257.3 281.3 L258.4 280.7 L259.5 280.2 L260.6 279.6 L261.7 278.9 L262.8 278.3 L263.8 277.7 L264.9 277.0 L265.9 276.3 L266.9 275.6 L267.9 274.8 L268.8 274.1 L269.7 273.3 L270.7 272.5 L271.6 271.6 L272.4 270.8 L273.3 269.9 L274.1 269.0 L274.9 268.0 L275.6 267.1 L276.3 266.1 L277.0 265.0 L277.6 264.0 L278.2 262.9 L278.7 261.8 L279.2 260.7 L279.6 259.6 L280.0 258.4 L280.3 257.2 L280.6 256.0 L280.8 254.9 L280.9 253.6 L281.0 252.4 L281.1 251.2 L281.1 250.0 L281.1 248.8 L281.0 247.6 L280.9 246.4 L280.7 245.2 L280.5 244.0 L280.3 242.8 L280.0 241.6 L279.7 240.4 L279.3 239.3 L278.9 238.1 L278.5 237.0 L278.1 235.8 L277.6 234.7 L277.2 233.6 L276.7 232.5 L276.1 231.4 L275.6 230.3 L275.0 229.2 L274.4 228.2 L273.8 227.1 L273.2 226.1 L272.6 225.1 L271.9 224.0 L271.3 223.0 L270.6 222.0 L269.9 221.0 L269.2 220.0 L268.5 219.0 L267.7 218.1 L267.0 217.1 L266.2 216.2 L265.5 215.2 L264.7 214.3 L263.9 213.4 L263.1 212.5 L262.3 211.5 L261.4 210.6 L260.6 209.8 L259.8 208.9 L258.9 208.0 L258.1 207.2 L257.2 206.3 L256.3 205.5 L255.5 204.6 L254.6 203.8 L253.7 203.0 L252.8 202.2 L251.8 201.4 L250.9 200.6 L250.0 199.9 L249.0 199.1 L248.1 198.4 L247.1 197.6 L246.2 196.9 L245.2 196.2 L244.2 195.5 L243.2 194.8 L242.2 194.1 L241.2 193.4 L240.2 192.7 L239.2 192.1 L238.1 191.4 L237.1 190.8 L236.1 190.2 L235.0 189.6 L233.9 189.0 L232.9 188.5 L231.8 187.9 L230.7 187.4 L229.6 186.8 L228.5 186.3 L227.4 185.8 L226.3 185.3 L225.2 184.9 L224.1 184.4 L223.0 184.0 L221.9 183.6 L220.7 183.2 L219.6 182.8 L218.4 182.4 L217.2 182.1 L216.1 181.8 L214.9 181.5 L213.7 181.2 L212.5 180.9 L211.4 180.7 L210.2 180.4 L209.0 180.2 L207.8 180.0 L206.6 179.9 L205.4 179.7 L204.2 179.6 L203.0 179.5 L201.8 179.4 L200.6 179.4 L199.4 179.3 L198.2 179.3 L197.0 179.3 L195.8 179.4 L194.6 179.4 L193.4 179.5 L192.2 179.6 L191.0 179.7 L189.8 179.8 L188.6 180.0 L187.4 180.1 L186.2 180.3 L185.0 180.6 L183.8 180.8 L182.6 181.1 L181.5 181.3 L180.3 181.6 L179.1 181.9 L178.0 182.3 L176.8 182.6 L175.7 183.0 L174.5 183.4 L173.4 183.8 L172.3 184.2 L171.1 184.7 L170.0 185.1 L168.9 185.6 L167.8 186.1 L166.7 186.6 L165.6 187.1 L164.5 187.6 L163.5 188.1 L162.4 188.7 L161.3 189.3 L160.3 189.9 L159.2 190.5 L158.2 191.1 L157.2 191.7 L156.1 192.3 L155.1 192.9 L154.1 193.6 L153.1 194.3 L152.9 194.4" stroke="#00B0F6"/>
<path d="M68.4 304.1 L69.9 304.0 L71.3 304.0 L72.7 304.0 L74.2 304.0 L75.6 304.0 L77.0 304.0 L78.4 304.0 L79.8 304.0 L81.2 304.0 L82.6 304.0 L83.9 304.0 L85.3 304.0 L86.6 304.0 L88.0 304.0 L89.3 304.0 L90.7 304.0 L92.0 303.9 L93.3 303.9 L94.6 303.9 L95.9 303.9 L97.2 303.9 L98.5 303.9 L99.7 303.9 L101.0 303.8 L102.3 303.8 L103.5 303.8 L104.8 303.8 L106.0 303.8 L107.2 303.8 L108.5 303.7 L109.7 303.7 L110.9 303.7 L112.4 303.7 L113.9 303.6 L115.3 303.6 L116.8 303.6 L118.3 303.5 L119.7 303.5 L121.1 303.5 L122.5 303.4 L124.0 303.4 L125.4 303.4 L126.7 303.3 L128.1 303.3 L129.5 303.3 L130.8 303.2 L132.2 303.2 L133.5 303.1 L134.8 303.1 L136.2 303.1 L137.5 303.0 L138.8 303.0 L140.1 302.9 L141.3 302.9 L142.6 302.8 L143.8 302.8 L145.1 302.7 L146.3 302.7 L147.6 302.6 L148.8 302.6 L150.0 302.5 L151.2 302.5 L152.6 302.4 L154.0 302.4 L155.4 302.3 L156.8 302.2 L158.2 302.2 L159.6 302.1 L160.9 302.0 L162.2 302.0 L163.6 301.9 L164.9 301.8 L166.2 301.7 L167.5 301.7 L168.7 301.6 L170.0 301.5 L171.3 301.4 L172.5 301.4 L173.7 301.3 L174.9 301.2 L176.1 301.1 L177.5 301.0 L178.9 300.9 L180.3 300.8 L181.6 300.7 L183.0 300.6 L184.3 300.5 L185.6 300.4 L186.9 300.3 L188.1 300.2 L189.4 300.1 L190.6 300.0 L191.9 299.9 L193.1 299.8 L194.3 299.7 L195.7 299.6 L197.0 299.4 L198.3 299.3 L199.6 299.2 L200.9 299.1 L202.2 298.9 L203.5 298.8 L204.7 298.7 L205.9 298.5 L207.1 298.4 L208.3 298.3 L209.7 298.1 L211.0 297.9 L212.3 297.8 L213.5 297.6 L214.8 297.5 L216.0 297.3 L217.2 297.1 L218.4 297.0 L219.7 296.8 L221.0 296.6 L222.3 296.4 L223.5 296.2 L224.7 296.0 L225.9 295.8 L227.2 295.6 L228.5 295.4 L229.8 295.2 L231.0 295.0 L232.2 294.8 L233.4 294.6 L234.7 294.3 L235.9 294.1 L237.1 293.8 L238.3 293.6 L239.6 293.3 L240.8 293.1 L242.0 292.8 L243.2 292.5 L244.4 292.2 L245.6 291.9 L246.8 291.6 L248.0 291.3 L249.2 291.0 L250.4 290.7 L251.6 290.3 L252.8 290.0 L254.0 289.6 L255.2 289.2 L256.3 288.8 L257.5 288.4 L258.7 288.0 L259.8 287.6 L261.0 287.1 L262.1 286.7 L263.3 286.2 L264.4 285.7 L265.5 285.2 L266.6 284.6 L267.7 284.0 L268.8 283.5 L269.8 282.8 L270.9 282.2 L271.9 281.5 L272.9 280.8 L273.8 280.1 L274.7 279.3 L275.6 278.4 L276.5 277.6 L277.3 276.6 L278.0 275.7 L278.7 274.7 L279.3 273.7 L279.8 272.6 L280.3 271.5 L280.6 270.3 L280.9 269.1 L281.0 267.9 L281.1 266.7 L281.1 265.5 L281.0 264.3 L280.8 263.1 L280.6 261.9 L280.3 260.7 L279.9 259.6 L279.5 258.4 L279.0 257.3 L278.5 256.2 L277.9 255.2 L277.4 254.1 L276.7 253.1 L276.1 252.0 L275.4 251.0 L274.8 250.0 L274.0 249.0 L273.3 248.1 L272.6 247.1 L271.8 246.2 L271.1 245.2 L270.3 244.3 L269.5 243.4 L268.7 242.5 L267.8 241.6 L267.0 240.7 L266.2 239.9 L265.3 239.0 L264.4 238.2 L263.6 237.3 L262.7 236.5 L261.8 235.6 L260.9 234.8 L260.0 234.0 L259.1 233.2 L258.2 232.4 L257.3 231.6 L256.3 230.9 L255.4 230.1 L254.4 229.3 L253.5 228.6 L252.5 227.8 L251.6 227.1 L250.6 226.4 L249.6 225.6 L248.7 224.9 L247.7 224.2 L246.7 223.5 L245.7 222.8 L244.7 222.1 L243.7 221.4 L242.7 220.8 L241.7 220.1 L240.7 219.4 L239.7 218.8 L238.6 218.1 L237.6 217.5 L236.6 216.9 L235.5 216.3 L234.5 215.6 L233.5 215.0 L232.4 214.4 L231.3 213.9 L230.3 213.3 L229.2 212.7 L228.2 212.1 L227.1 211.6 L226.0 211.0 L224.9 210.5 L223.8 210.0 L222.7 209.5 L221.6 209.0 L220.5 208.5 L219.4 208.0 L218.3 207.5 L217.2 207.0 L216.1 206.6 L215.0 206.1 L213.9 205.7 L212.7 205.2 L211.6 204.8 L210.5 204.4 L209.3 204.0 L208.2 203.7 L207.0 203.3 L205.9 202.9 L204.7 202.6 L203.5 202.2 L202.4 201.9 L201.2 201.6 L200.0 201.3 L198.8 201.0 L197.7 200.8 L196.5 200.5 L195.3 200.3 L194.1 200.1 L192.9 199.9 L191.7 199.7 L190.5 199.5 L189.3 199.3 L188.1 199.2 L186.9 199.1 L185.7 198.9 L184.5 198.8 L183.3 198.8 L182.1 198.7 L180.9 198.6 L179.7 198.6 L178.5 198.6 L177.3 198.6 L176.1 198.6 L174.9 198.6 L173.7 198.7 L172.5 198.8 L171.3 198.8 L170.1 198.9 L168.9 199.1 L167.7 199.2 L166.5 199.4 L165.3 199.5 L164.1 199.7 L162.9 199.9 L161.8 200.2 L160.6 200.4 L159.4 200.7 L158.2 201.0 L157.1 201.3 L155.9 201.6 L154.7 201.9 L153.6 202.2 L152.9 202.5" stroke="#9590FF"/>
<path d="M68.4 304.1 L69.9 304.0 L71.3 304.0 L72.7 304.0 L74.2 304.0 L75.6 304.0 L77.0 304.0 L78.4 304.0 L79.8 304.0 L81.2 304.0 L82.6 304.0 L83.9 304.0 L85.3 304.0 L86.6 304.0 L88.0 304.0 L89.3 304.0 L90.7 304.0 L92.0 304.0 L93.3 304.0 L94.6 304.0 L95.9 303.9 L97.2 303.9 L98.5 303.9 L99.7 303.9 L101.0 303.9 L102.3 303.9 L103.5 303.9 L104.8 303.9 L106.0 303.8 L107.2 303.8 L108.5 303.8 L109.7 303.8 L110.9 303.8 L112.4 303.8 L113.9 303.7 L115.3 303.7 L116.8 303.7 L118.3 303.7 L119.7 303.6 L121.1 303.6 L122.5 303.6 L124.0 303.6 L125.4 303.5 L126.7 303.5 L128.1 303.5 L129.5 303.5 L130.8 303.4 L132.2 303.4 L133.5 303.4 L134.8 303.3 L136.2 303.3 L137.5 303.3 L138.8 303.2 L140.1 303.2 L141.3 303.2 L142.6 303.1 L143.8 303.1 L145.1 303.1 L146.3 303.0 L147.6 303.0 L148.8 303.0 L150.0 302.9 L151.4 302.9 L152.8 302.8 L154.3 302.8 L155.7 302.7 L157.0 302.7 L158.4 302.6 L159.8 302.6 L161.1 302.5 L162.5 302.5 L163.8 302.4 L165.1 302.4 L166.4 302.3 L167.7 302.2 L168.9 302.2 L170.2 302.1 L171.5 302.1 L172.7 302.0 L173.9 302.0 L175.1 301.9 L176.3 301.8 L177.7 301.8 L179.1 301.7 L180.5 301.6 L181.8 301.5 L183.1 301.5 L184.5 301.4 L185.8 301.3 L187.0 301.2 L188.3 301.2 L189.6 301.1 L190.8 301.0 L192.0 300.9 L193.3 300.8 L194.5 300.8 L195.8 300.7 L197.2 300.6 L198.5 300.5 L199.8 300.4 L201.1 300.3 L202.4 300.2 L203.6 300.1 L204.9 300.0 L206.1 299.9 L207.3 299.8 L208.6 299.6 L210.0 299.5 L211.3 299.4 L212.5 299.3 L213.8 299.2 L215.1 299.0 L216.3 298.9 L217.5 298.8 L218.8 298.7 L220.1 298.5 L221.4 298.4 L222.7 298.2 L223.9 298.1 L225.1 297.9 L226.3 297.8 L227.6 297.6 L228.9 297.5 L230.1 297.3 L231.3 297.2 L232.5 297.0 L233.8 296.8 L235.1 296.6 L236.3 296.4 L237.5 296.3 L238.8 296.1 L240.0 295.8 L241.3 295.6 L242.5 295.4 L243.7 295.2 L244.9 295.0 L246.1 294.8 L247.4 294.5 L248.6 294.3 L249.8 294.0 L251.0 293.8 L252.2 293.5 L253.4 293.2 L254.6 292.9 L255.8 292.6 L257.0 292.3 L258.2 292.0 L259.4 291.7 L260.6 291.3 L261.8 290.9 L262.9 290.6 L264.1 290.2 L265.3 289.7 L266.5 289.3 L267.6 288.8 L268.7 288.4 L269.8 287.9 L270.9 287.3 L272.0 286.8 L273.1 286.2 L274.1 285.5 L275.1 284.8 L276.1 284.1 L277.0 283.3 L277.9 282.5 L278.7 281.6 L279.4 280.6 L280.0 279.5 L280.5 278.4 L280.9 277.3 L281.1 276.1 L281.1 274.9 L281.0 273.7 L280.8 272.5 L280.5 271.3 L280.1 270.1 L279.6 269.0 L279.1 268.0 L278.5 266.9 L277.8 265.9 L277.1 264.9 L276.4 264.0 L275.6 263.0 L274.9 262.1 L274.1 261.2 L273.2 260.3 L272.4 259.4 L271.6 258.5 L270.7 257.7 L269.8 256.9 L268.9 256.0 L268.0 255.2 L267.1 254.4 L266.2 253.6 L265.3 252.9 L264.3 252.1 L263.4 251.3 L262.4 250.6 L261.5 249.8 L260.5 249.1 L259.6 248.4 L258.6 247.7 L257.6 247.0 L256.6 246.2 L255.6 245.5 L254.6 244.9 L253.6 244.2 L252.6 243.5 L251.6 242.8 L250.6 242.2 L249.6 241.5 L248.6 240.8 L247.6 240.2 L246.5 239.5 L245.5 238.9 L244.5 238.3 L243.4 237.6 L242.4 237.0 L241.4 236.4 L240.3 235.8 L239.3 235.2 L238.2 234.6 L237.2 234.0 L236.1 233.4 L235.1 232.8 L234.0 232.3 L232.9 231.7 L231.8 231.1 L230.8 230.6 L229.7 230.0 L228.6 229.5 L227.5 228.9 L226.5 228.4 L225.4 227.9 L224.3 227.4 L223.2 226.8 L222.1 226.3 L221.0 225.8 L219.9 225.3 L218.8 224.8 L217.7 224.4 L216.6 223.9 L215.4 223.4 L214.3 223.0 L213.2 222.5 L212.1 222.1 L211.0 221.6 L209.8 221.2 L208.7 220.8 L207.6 220.4 L206.4 220.0 L205.3 219.6 L204.2 219.2 L203.0 218.8 L201.9 218.4 L200.7 218.0 L199.5 217.7 L198.4 217.3 L197.2 217.0 L196.0 216.7 L194.9 216.3 L193.7 216.0 L192.5 215.7 L191.4 215.4 L190.2 215.2 L189.0 214.9 L187.8 214.6 L186.7 214.4 L185.5 214.2 L184.3 213.9 L183.1 213.7 L181.9 213.5 L180.7 213.3 L179.5 213.1 L178.3 213.0 L177.1 212.8 L175.9 212.7 L174.7 212.6 L173.6 212.4 L172.3 212.3 L171.1 212.2 L169.9 212.2 L168.7 212.1 L167.5 212.1 L166.3 212.0 L165.1 212.0 L163.9 212.0 L162.7 212.0 L161.5 212.0 L160.3 212.1 L159.1 212.1 L157.9 212.2 L156.7 212.3 L155.5 212.4 L154.3 212.5 L153.1 212.6 L152.9 212.6" stroke="#E76BF3"/>
<path d="M68.4 304.1 L69.9 304.0 L71.3 304.0 L72.7 304.0 L74.2 304.0 L75.6 304.0 L77.0 304.0 L78.4 304.0 L79.8 304.0 L81.2 304.0 L82.6 304.0 L83.9 304.0 L85.3 304.0 L86.6 304.0 L88.0 304.0 L89.3 304.0 L90.7 304.0 L92.0 304.0 L93.3 304.0 L94.6 304.0 L95.9 304.0 L97.2 304.0 L98.5 303.9 L99.7 303.9 L101.0 303.9 L102.3 303.9 L103.5 303.9 L104.8 303.9 L106.0 303.9 L107.2 303.9 L108.5 303.9 L109.7 303.8 L110.9 303.8 L112.4 303.8 L113.9 303.8 L115.3 303.8 L116.8 303.8 L118.3 303.7 L119.7 303.7 L121.1 303.7 L122.5 303.7 L124.0 303.7 L125.4 303.6 L126.7 303.6 L128.1 303.6 L129.5 303.6 L130.8 303.6 L132.2 303.5 L133.5 303.5 L134.8 303.5 L136.2 303.5 L137.5 303.4 L138.8 303.4 L140.1 303.4 L141.3 303.3 L142.6 303.3 L143.8 303.3 L145.1 303.3 L146.3 303.2 L147.6 303.2 L148.8 303.2 L150.0 303.1 L151.4 303.1 L152.8 303.1 L154.3 303.0 L155.7 303.0 L157.0 302.9 L158.4 302.9 L159.8 302.9 L161.1 302.8 L162.5 302.8 L163.8 302.7 L165.1 302.7 L166.4 302.6 L167.7 302.6 L168.9 302.6 L170.2 302.5 L171.5 302.5 L172.7 302.4 L173.9 302.4 L175.1 302.3 L176.3 302.3 L177.7 302.2 L179.1 302.2 L180.5 302.1 L181.8 302.0 L183.1 302.0 L184.5 301.9 L185.8 301.9 L187.0 301.8 L188.3 301.7 L189.6 301.7 L190.8 301.6 L192.0 301.5 L193.3 301.5 L194.5 301.4 L195.8 301.3 L197.2 301.3 L198.5 301.2 L199.8 301.1 L201.1 301.0 L202.4 300.9 L203.6 300.9 L204.9 300.8 L206.1 300.7 L207.3 300.6 L208.6 300.5 L210.0 300.4 L211.3 300.3 L212.5 300.2 L213.8 300.1 L215.1 300.0 L216.3 299.9 L217.5 299.8 L218.8 299.7 L220.1 299.6 L221.4 299.5 L222.7 299.4 L223.9 299.3 L225.1 299.1 L226.3 299.0 L227.6 298.9 L228.9 298.8 L230.1 298.6 L231.3 298.5 L232.5 298.4 L233.8 298.2 L235.1 298.1 L236.3 297.9 L237.5 297.8 L238.8 297.6 L240.0 297.4 L241.3 297.3 L242.5 297.1 L243.7 296.9 L244.9 296.8 L246.1 296.6 L247.4 296.4 L248.6 296.2 L249.9 296.0 L251.1 295.7 L252.3 295.5 L253.5 295.3 L254.7 295.1 L255.9 294.8 L257.1 294.6 L258.3 294.3 L259.5 294.0 L260.7 293.7 L261.9 293.4 L263.1 293.1 L264.3 292.8 L265.4 292.5 L266.6 292.1 L267.8 291.7 L268.9 291.3 L270.1 290.9 L271.2 290.4 L272.3 289.9 L273.4 289.4 L274.5 288.9 L275.5 288.3 L276.6 287.6 L277.5 286.9 L278.4 286.1 L279.3 285.2 L280.0 284.2 L280.6 283.2 L280.9 282.0 L281.1 280.8 L281.1 279.6 L280.8 278.4 L280.5 277.3 L280.0 276.2 L279.4 275.1 L278.7 274.1 L278.0 273.1 L277.2 272.2 L276.4 271.3 L275.6 270.4 L274.7 269.6 L273.9 268.7 L273.0 267.9 L272.0 267.1 L271.1 266.3 L270.2 265.6 L269.2 264.8 L268.3 264.1 L267.3 263.4 L266.3 262.7 L265.4 262.0 L264.4 261.3 L263.4 260.6 L262.4 259.9 L261.4 259.2 L260.3 258.6 L259.3 257.9 L258.3 257.3 L257.3 256.6 L256.3 256.0 L255.2 255.4 L254.2 254.7 L253.1 254.1 L252.1 253.5 L251.1 252.9 L250.0 252.3 L249.0 251.7 L247.9 251.1 L246.8 250.5 L245.8 250.0 L244.7 249.4 L243.6 248.8 L242.6 248.2 L241.5 247.7 L240.4 247.1 L239.3 246.6 L238.3 246.0 L237.2 245.5 L236.1 244.9 L235.0 244.4 L233.9 243.9 L232.9 243.3 L231.8 242.8 L230.7 242.3 L229.6 241.8 L228.5 241.3 L227.4 240.8 L226.3 240.3 L225.2 239.8 L224.1 239.3 L223.0 238.8 L221.9 238.3 L220.8 237.9 L219.6 237.4 L218.5 236.9 L217.4 236.5 L216.3 236.0 L215.2 235.6 L214.0 235.1 L212.9 234.7 L211.8 234.2 L210.7 233.8 L209.5 233.4 L208.4 233.0 L207.3 232.6 L206.1 232.2 L205.0 231.8 L203.9 231.4 L202.7 231.0 L201.6 230.6 L200.4 230.2 L199.2 229.9 L198.1 229.5 L197.0 229.1 L195.8 228.8 L194.6 228.5 L193.5 228.1 L192.3 227.8 L191.2 227.5 L190.0 227.2 L188.9 226.9 L187.7 226.6 L186.5 226.3 L185.3 226.0 L184.2 225.7 L183.0 225.4 L181.8 225.2 L180.6 224.9 L179.4 224.7 L178.3 224.5 L177.1 224.3 L175.9 224.0 L174.7 223.8 L173.5 223.6 L172.3 223.5 L171.1 223.3 L169.9 223.1 L168.7 223.0 L167.5 222.8 L166.3 222.7 L165.1 222.6 L163.9 222.5 L162.7 222.4 L161.5 222.3 L160.3 222.2 L159.1 222.1 L157.9 222.1 L156.7 222.0 L155.5 222.0 L154.3 222.0 L153.1 222.0 L152.9 222.0" stroke="#FF62BC"/></g>
<g clip-path="url(#c1)"><circle cx="209.7" cy="241.3" r="5.8" fill="#F8766D"/>
<circle cx="209.7" cy="266.5" r="5.8" fill="#D89000"/>
<circle cx="209.7" cy="277.3" r="5.8" fill="#A3A500"/>
<circle cx="209.7" cy="289.8" r="5.8" fill="#00BF7D"/>
<circle cx="209.7" cy="283.3" r="5.8" fill="#39B600"/>
<circle cx="209.7" cy="295.2" r="5.8" fill="#00B0F6"/>
<circle cx="209.7" cy="293.2" r="5.8" fill="#00BFC4"/>
<circle cx="209.7" cy="299.6" r="5.8" fill="#E76BF3"/>
<circle cx="209.7" cy="298.1" r="5.8" fill="#9590FF"/>
<circle cx="209.7" cy="300.4" r="5.8" fill="#FF62BC"/>
<circle cx="209.6" cy="149.8" r="5.8" fill="#39B600"/>
<circle cx="209.6" cy="157.5" r="5.8" fill="#00BF7D"/>
<circle cx="209.6" cy="149.8" r="5.8" fill="#A3A500"/>
<circle cx="209.6" cy="153.9" r="5.8" fill="#D89000"/>
<circle cx="209.6" cy="168.9" r="5.8" fill="#00BFC4"/>
<circle cx="209.6" cy="160.9" r="5.8" fill="#F8766D"/>
<circle cx="209.6" cy="180.3" r="5.8" fill="#00B0F6"/>
<circle cx="209.6" cy="204.1" r="5.8" fill="#9590FF"/>
<circle cx="209.6" cy="221.1" r="5.8" fill="#E76BF3"/>
<circle cx="209.6" cy="233.4" r="5.8" fill="#FF62BC"/></g>
<rect x="54.50" y="1.50" width="310.10" height="24.10" fill="#D9D9D9" stroke="#333" stroke-width="0.9"/>
<rect x="54.50" y="25.60" width="310.10" height="291.35" fill="none" stroke="#333" stroke-width="0.9"/>
<text class="st" x="209.55" y="18.20" text-anchor="middle" id="strip1">dosing interval 1</text>
<text class="ax" x="68.40" y="333.90" text-anchor="middle">0</text>
<text class="ax" x="146.58" y="333.90" text-anchor="middle">30</text>
<text class="ax" x="224.76" y="333.90" text-anchor="middle">60</text>
<text class="ax" x="302.94" y="333.90" text-anchor="middle">90</text>
<g stroke="#333" stroke-width="1.5"><line x1="68.40" x2="68.40" y1="316.95" y2="321.55"/><line x1="146.58" x2="146.58" y1="316.95" y2="321.55"/><line x1="224.76" x2="224.76" y1="316.95" y2="321.55"/><line x1="302.94" x2="302.94" y1="316.95" y2="321.55"/></g>
<g stroke="#EBEBEB" fill="none"><line x1="373.70" x2="683.50" y1="272.68" y2="272.68" stroke-width="0.78"/>
<line x1="373.70" x2="683.50" y1="209.94" y2="209.94" stroke-width="0.78"/>
<line x1="373.70" x2="683.50" y1="147.21" y2="147.21" stroke-width="0.78"/>
<line x1="373.70" x2="683.50" y1="84.47" y2="84.47" stroke-width="0.78"/>
<line x1="426.59" x2="426.59" y1="25.60" y2="316.95" stroke-width="0.78"/>
<line x1="504.77" x2="504.77" y1="25.60" y2="316.95" stroke-width="0.78"/>
<line x1="582.95" x2="582.95" y1="25.60" y2="316.95" stroke-width="0.78"/>
<line x1="661.13" x2="661.13" y1="25.60" y2="316.95" stroke-width="0.78"/>
<line x1="373.70" x2="683.50" y1="304.05" y2="304.05" stroke-width="1.5"/>
<line x1="373.70" x2="683.50" y1="241.31" y2="241.31" stroke-width="1.5"/>
<line x1="373.70" x2="683.50" y1="178.57" y2="178.57" stroke-width="1.5"/>
<line x1="373.70" x2="683.50" y1="115.84" y2="115.84" stroke-width="1.5"/>
<line x1="373.70" x2="683.50" y1="53.10" y2="53.10" stroke-width="1.5"/>
<line x1="387.50" x2="387.50" y1="25.60" y2="316.95" stroke-width="1.5"/>
<line x1="465.68" x2="465.68" y1="25.60" y2="316.95" stroke-width="1.5"/>
<line x1="543.86" x2="543.86" y1="25.60" y2="316.95" stroke-width="1.5"/>
<line x1="622.04" x2="622.04" y1="25.60" y2="316.95" stroke-width="1.5"/></g>
<g clip-path="url(#c2)" fill="none" stroke-width="1.89" stroke-linejoin="round" stroke-linecap="butt"><path d="M472.0 218.4 L473.5 218.4 L474.9 218.4 L476.3 218.4 L477.7 218.4 L479.0 218.4 L480.4 218.4 L481.8 218.3 L483.2 218.3 L484.5 218.2 L485.9 218.2 L487.2 218.1 L488.5 218.0 L489.8 217.9 L491.2 217.8 L492.5 217.7 L493.8 217.6 L495.0 217.4 L496.3 217.3 L497.6 217.2 L498.9 217.0 L500.1 216.8 L501.4 216.7 L502.6 216.5 L503.8 216.3 L505.1 216.1 L506.3 215.9 L507.5 215.7 L508.7 215.5 L509.9 215.2 L511.1 215.0 L512.3 214.7 L513.7 214.4 L515.2 214.1 L516.6 213.8 L518.0 213.4 L519.5 213.1 L520.9 212.7 L522.3 212.3 L523.7 211.9 L525.0 211.5 L526.4 211.1 L527.8 210.7 L529.1 210.3 L530.4 209.9 L531.8 209.4 L533.1 209.0 L534.4 208.5 L535.7 208.1 L537.0 207.6 L538.2 207.1 L539.5 206.6 L540.7 206.1 L542.0 205.6 L543.2 205.1 L544.4 204.6 L545.6 204.1 L546.9 203.6 L548.0 203.0 L549.2 202.5 L550.4 202.0 L551.6 201.4 L552.7 200.9 L553.9 200.3 L555.0 199.7 L556.1 199.2 L557.3 198.6 L558.4 198.0 L559.5 197.4 L560.6 196.8 L561.7 196.2 L562.7 195.6 L563.8 195.0 L564.9 194.4 L565.9 193.8 L566.9 193.2 L568.0 192.5 L569.0 191.9 L570.2 191.2 L571.4 190.4 L572.6 189.6 L573.8 188.9 L575.0 188.1 L576.1 187.3 L577.3 186.5 L578.4 185.8 L579.6 185.0 L580.7 184.2 L581.8 183.4 L582.9 182.6 L584.0 181.8 L585.0 181.0 L586.1 180.2 L587.1 179.4 L588.2 178.6 L589.2 177.7 L590.2 176.9 L591.2 176.1 L592.2 175.3 L593.2 174.5 L594.2 173.6 L595.2 172.8 L596.1 172.0 L597.1 171.2 L598.0 170.3 L599.0 169.5 L599.9 168.7 L600.8 167.8 L601.7 167.0 L602.6 166.2 L603.5 165.4 L604.4 164.5 L605.2 163.7 L606.2 162.7 L607.2 161.7 L608.2 160.8 L609.2 159.8 L610.1 158.8 L611.1 157.9 L612.0 156.9 L612.9 155.9 L613.8 155.0 L614.7 154.0 L615.6 153.1 L616.5 152.1 L617.3 151.1 L618.2 150.2 L619.0 149.2 L619.9 148.3 L620.7 147.3 L621.5 146.4 L622.3 145.4 L623.1 144.5 L623.9 143.5 L624.7 142.6 L625.4 141.7 L626.3 140.6 L627.1 139.5 L628.0 138.5 L628.8 137.4 L629.6 136.4 L630.4 135.3 L631.2 134.3 L632.0 133.3 L632.7 132.2 L633.5 131.2 L634.2 130.2 L635.0 129.2 L635.7 128.1 L636.4 127.1 L637.1 126.1 L637.8 125.1 L638.5 124.1 L639.2 123.0 L640.0 121.9 L640.7 120.8 L641.4 119.8 L642.1 118.7 L642.8 117.6 L643.5 116.5 L644.1 115.5 L644.8 114.4 L645.4 113.4 L646.1 112.3 L646.7 111.2 L647.4 110.1 L648.1 109.0 L648.7 107.8 L649.3 106.7 L650.0 105.7 L650.6 104.6 L651.2 103.5 L651.7 102.4 L652.4 101.3 L653.0 100.1 L653.6 99.0 L654.2 97.9 L654.7 96.8 L655.3 95.7 L655.8 94.6 L656.4 93.4 L657.0 92.3 L657.5 91.1 L658.0 90.0 L658.5 88.9 L659.0 87.8 L659.6 86.6 L660.1 85.5 L660.6 84.4 L661.0 83.2 L661.5 82.1 L662.0 80.9 L662.5 79.8 L662.9 78.6 L663.4 77.5 L663.8 76.3 L664.2 75.2 L664.6 74.0 L665.0 72.8 L665.4 71.7 L665.8 70.5 L666.2 69.3 L666.6 68.1 L666.9 67.0 L667.3 65.8 L667.6 64.6 L667.9 63.4 L668.2 62.2 L668.5 61.0 L668.7 59.8 L669.0 58.6 L669.2 57.4 L669.4 56.2 L669.6 55.0 L669.7 53.8 L669.8 52.6 L669.9 51.3 L669.9 50.1 L669.9 48.9 L669.9 47.7 L669.8 46.4 L669.6 45.2 L669.3 44.1 L668.9 42.9 L668.4 41.8 L667.7 40.8 L666.8 40.0 L665.8 39.4 L664.6 39.0 L663.4 38.8 L662.2 38.8 L661.0 39.0 L659.8 39.3 L658.7 39.6 L657.5 40.0 L656.4 40.5 L655.3 41.0 L654.2 41.6 L653.2 42.2 L652.1 42.8 L651.1 43.4 L650.1 44.1 L649.0 44.7 L648.0 45.4 L647.1 46.1 L646.1 46.8 L645.1 47.5 L644.1 48.3 L643.2 49.0 L642.2 49.8 L641.3 50.5 L640.3 51.3 L639.4 52.1 L638.4 52.8 L637.5 53.6 L636.6 54.4 L635.7 55.2 L634.7 56.0 L633.8 56.8 L632.9 57.6 L632.0 58.4 L631.1 59.2 L630.2 60.0 L629.3 60.8 L628.4 61.6 L627.5 62.4 L626.6 63.3 L625.7 64.1 L624.8 64.9 L623.9 65.7 L623.0 66.6 L622.2 67.4 L621.3 68.2 L620.4 69.1 L619.5 69.9 L618.6 70.7 L617.8 71.6 L616.9 72.4 L616.0 73.3 L615.1 74.1 L614.3 74.9 L613.4 75.8 L612.6 76.6 L611.7 77.5 L610.8 78.3 L609.9 79.2 L609.0 80.0 L608.2 80.9 L607.3 81.7 L606.4 82.6 L605.6 83.4 L604.7 84.3 L603.9 85.1 L603.0 86.0 L602.1 86.8 L601.3 87.7 L600.4 88.6 L599.5 89.4 L598.7 90.3 L597.8 91.1 L597.0 92.0 L596.1 92.8 L595.2 93.7 L594.4 94.6 L593.5 95.4 L592.7 96.3 L591.8 97.1 L590.9 98.0 L590.1 98.8 L589.2 99.7 L588.4 100.6 L587.5 101.4 L586.7 102.3 L585.8 103.2 L585.0 104.0 L584.1 104.9 L583.2 105.7 L582.4 106.6 L581.5 107.5 L580.7 108.3 L579.8 109.2 L579.0 110.0 L578.1 110.9 L577.3 111.8 L576.4 112.6 L575.6 113.5 L574.7 114.4 L573.8 115.2 L573.0 116.1 L572.1 116.9 L571.3 117.8 L570.4 118.7 L569.6 119.5 L568.7 120.4 L567.9 121.3 L567.0 122.1 L566.2 123.0 L565.3 123.8 L564.5 124.7 L563.6 125.6 L562.8 126.4 L561.9 127.3 L561.0 128.2 L560.2 129.0 L559.4 129.9 L558.5 130.7 L557.6 131.6 L556.8 132.5 L556.0 133.3 L555.1 134.2 L554.2 135.0 L553.4 135.9 L552.6 136.8 L551.7 137.6 L550.8 138.5 L550.0 139.3 L549.1 140.2 L548.3 141.1 L547.4 141.9 L546.6 142.8 L545.7 143.7 L544.9 144.5 L544.0 145.4 L543.2 146.3 L542.3 147.1 L541.5 148.0 L540.6 148.8 L539.8 149.7 L538.9 150.6 L538.1 151.4 L537.2 152.3 L536.4 153.2 L535.5 154.0 L534.7 154.9 L533.8 155.7 L533.0 156.6 L532.1 157.5 L531.3 158.3 L530.4 159.2 L529.6 160.0 L528.7 160.9 L527.9 161.8 L527.0 162.6 L526.2 163.5 L525.3 164.3 L524.5 165.2 L523.6 166.1 L522.8 166.9 L521.9 167.8 L521.1 168.7 L520.2 169.5 L519.4 170.4 L518.5 171.2 L517.7 172.1 L516.8 173.0 L516.0 173.8 L515.1 174.7 L514.3 175.5 L513.4 176.4 L512.6 177.3 L511.7 178.1 L510.9 179.0 L510.0 179.8 L509.2 180.7 L508.3 181.6 L507.5 182.4 L506.6 183.3 L505.8 184.1 L504.9 185.0 L504.1 185.9 L503.2 186.7 L502.4 187.6 L501.5 188.4 L500.7 189.3 L499.8 190.2 L499.0 191.0 L498.2 191.9 L497.5 192.6" stroke="#F8766D"/>
<path d="M472.0 213.6 L473.5 213.6 L474.9 213.7 L476.3 213.7 L477.7 213.7 L479.0 213.7 L480.4 213.7 L481.8 213.7 L483.2 213.7 L484.5 213.7 L485.9 213.7 L487.2 213.7 L488.5 213.7 L489.8 213.6 L491.2 213.6 L492.5 213.6 L493.8 213.5 L495.0 213.5 L496.3 213.4 L497.6 213.3 L498.9 213.3 L500.1 213.2 L501.4 213.1 L502.6 213.1 L503.8 213.0 L505.1 212.9 L506.3 212.8 L507.5 212.7 L508.7 212.6 L510.2 212.5 L511.7 212.3 L513.1 212.2 L514.6 212.1 L516.0 211.9 L517.5 211.7 L518.9 211.6 L520.3 211.4 L521.7 211.2 L523.1 211.0 L524.5 210.8 L525.9 210.6 L527.2 210.4 L528.6 210.2 L529.9 210.0 L531.2 209.8 L532.6 209.6 L533.9 209.4 L535.2 209.1 L536.4 208.9 L537.7 208.6 L539.0 208.4 L540.2 208.1 L541.5 207.9 L542.7 207.6 L543.9 207.3 L545.2 207.1 L546.4 206.8 L547.6 206.5 L548.8 206.2 L549.9 205.9 L551.1 205.6 L552.5 205.3 L553.9 204.9 L555.2 204.6 L556.6 204.2 L557.9 203.8 L559.3 203.4 L560.6 203.0 L561.9 202.6 L563.2 202.2 L564.4 201.8 L565.7 201.4 L566.9 201.0 L568.2 200.6 L569.4 200.1 L570.6 199.7 L571.8 199.3 L573.0 198.8 L574.2 198.4 L575.4 198.0 L576.5 197.5 L577.7 197.0 L578.8 196.6 L579.9 196.1 L581.0 195.7 L582.3 195.1 L583.6 194.6 L584.8 194.0 L586.1 193.4 L587.3 192.9 L588.5 192.3 L589.7 191.7 L590.9 191.2 L592.1 190.6 L593.2 190.0 L594.4 189.4 L595.5 188.8 L596.6 188.2 L597.7 187.6 L598.8 187.0 L599.9 186.4 L601.0 185.8 L602.0 185.2 L603.0 184.6 L604.2 183.8 L605.4 183.1 L606.5 182.4 L607.6 181.7 L608.7 181.0 L609.8 180.3 L610.9 179.5 L612.0 178.8 L613.0 178.1 L614.1 177.4 L615.1 176.6 L616.1 175.9 L617.1 175.2 L618.1 174.4 L619.0 173.7 L620.0 172.9 L621.0 172.1 L622.1 171.3 L623.1 170.4 L624.1 169.6 L625.1 168.7 L626.1 167.9 L627.0 167.1 L628.0 166.2 L628.9 165.4 L629.8 164.5 L630.7 163.7 L631.6 162.8 L632.5 162.0 L633.3 161.1 L634.2 160.2 L635.2 159.3 L636.1 158.3 L636.9 157.4 L637.8 156.5 L638.6 155.5 L639.5 154.6 L640.3 153.7 L641.1 152.7 L641.9 151.8 L642.6 150.9 L643.5 149.9 L644.3 148.9 L645.1 147.8 L645.8 146.8 L646.6 145.8 L647.3 144.8 L648.1 143.8 L648.8 142.8 L649.5 141.8 L650.2 140.8 L650.9 139.7 L651.6 138.6 L652.3 137.6 L653.0 136.5 L653.6 135.4 L654.3 134.4 L654.9 133.3 L655.5 132.2 L656.2 131.1 L656.8 130.0 L657.4 128.9 L657.9 127.8 L658.5 126.7 L659.0 125.6 L659.6 124.5 L660.1 123.3 L660.7 122.2 L661.2 121.0 L661.7 119.9 L662.1 118.8 L662.6 117.6 L663.1 116.4 L663.5 115.3 L664.0 114.1 L664.4 113.0 L664.8 111.8 L665.2 110.6 L665.6 109.4 L665.9 108.3 L666.3 107.1 L666.6 105.9 L666.9 104.7 L667.3 103.5 L667.6 102.3 L667.8 101.1 L668.1 99.9 L668.3 98.7 L668.6 97.5 L668.8 96.3 L669.0 95.1 L669.2 93.8 L669.3 92.6 L669.5 91.4 L669.6 90.2 L669.7 89.0 L669.8 87.7 L669.9 86.5 L669.9 85.3 L669.9 84.1 L670.0 82.8 L669.9 81.6 L669.9 80.4 L669.8 79.2 L669.7 78.0 L669.6 76.8 L669.5 75.5 L669.3 74.3 L669.1 73.1 L668.8 71.9 L668.6 70.7 L668.3 69.6 L667.9 68.4 L667.6 67.3 L667.1 66.1 L666.7 65.0 L666.2 63.9 L665.6 62.8 L665.0 61.7 L664.3 60.7 L663.6 59.7 L662.9 58.8 L662.1 57.9 L661.2 57.0 L660.3 56.3 L659.3 55.5 L658.3 54.9 L657.2 54.3 L656.1 53.8 L655.0 53.4 L653.8 53.0 L652.6 52.8 L651.4 52.6 L650.2 52.5 L649.0 52.4 L647.8 52.5 L646.6 52.5 L645.4 52.7 L644.2 52.9 L643.0 53.1 L641.9 53.4 L640.7 53.7 L639.5 54.0 L638.4 54.4 L637.2 54.8 L636.1 55.3 L635.0 55.7 L633.9 56.2 L632.8 56.7 L631.7 57.3 L630.6 57.8 L629.6 58.4 L628.5 59.0 L627.5 59.6 L626.4 60.2 L625.4 60.9 L624.3 61.5 L623.3 62.2 L622.3 62.8 L621.3 63.5 L620.3 64.2 L619.3 64.9 L618.3 65.6 L617.3 66.3 L616.3 67.0 L615.4 67.8 L614.4 68.5 L613.5 69.2 L612.5 70.0 L611.6 70.7 L610.6 71.5 L609.7 72.3 L608.7 73.0 L607.8 73.8 L606.9 74.6 L605.9 75.4 L605.0 76.2 L604.1 77.0 L603.2 77.8 L602.3 78.6 L601.3 79.4 L600.4 80.2 L599.5 81.0 L598.6 81.8 L597.7 82.6 L596.8 83.4 L595.9 84.2 L595.1 85.1 L594.2 85.9 L593.3 86.7 L592.4 87.5 L591.5 88.4 L590.7 89.2 L589.8 90.0 L588.9 90.9 L588.0 91.7 L587.1 92.6 L586.3 93.4 L585.4 94.3 L584.5 95.1 L583.7 96.0 L582.8 96.8 L581.9 97.6 L581.1 98.5 L580.2 99.4 L579.3 100.2 L578.5 101.1 L577.6 101.9 L576.8 102.8 L575.9 103.6 L575.1 104.5 L574.2 105.4 L573.4 106.3 L572.5 107.1 L571.7 108.0 L570.8 108.8 L570.0 109.7 L569.1 110.6 L568.3 111.4 L567.4 112.3 L566.6 113.2 L565.7 114.1 L564.9 114.9 L564.0 115.8 L563.2 116.7 L562.3 117.6 L561.5 118.4 L560.7 119.3 L559.8 120.2 L559.0 121.0 L558.2 121.9 L557.3 122.8 L556.5 123.7 L555.6 124.5 L554.8 125.4 L554.0 126.3 L553.1 127.2 L552.3 128.0 L551.5 128.9 L550.6 129.8 L549.8 130.7 L549.0 131.6 L548.1 132.4 L547.3 133.3 L546.5 134.2 L545.6 135.1 L544.8 136.0 L544.0 136.8 L543.1 137.7 L542.3 138.6 L541.5 139.5 L540.6 140.4 L539.8 141.2 L539.0 142.1 L538.1 143.0 L537.3 143.9 L536.5 144.8 L535.6 145.7 L534.8 146.5 L534.0 147.4 L533.2 148.3 L532.3 149.2 L531.5 150.1 L530.7 150.9 L529.8 151.8 L529.0 152.7 L528.2 153.6 L527.4 154.5 L526.5 155.3 L525.7 156.2 L524.9 157.1 L524.1 158.0 L523.2 158.9 L522.4 159.8 L521.6 160.6 L520.7 161.5 L519.9 162.4 L519.1 163.3 L518.3 164.2 L517.4 165.0 L516.6 165.9 L515.8 166.8 L515.0 167.7 L514.1 168.6 L513.3 169.5 L512.5 170.3 L511.7 171.2 L510.8 172.1 L510.0 173.0 L509.2 173.9 L508.4 174.8 L507.5 175.6 L506.7 176.5 L505.9 177.4 L505.0 178.3 L504.2 179.2 L503.4 180.1 L502.6 180.9 L501.7 181.8 L500.9 182.7 L500.1 183.6 L499.3 184.5 L498.4 185.4 L497.6 186.2 L497.5 186.4" stroke="#D89000"/>
<path d="M472.0 208.5 L473.5 208.5 L474.9 208.5 L476.3 208.6 L477.7 208.6 L479.0 208.6 L480.4 208.6 L481.8 208.6 L483.2 208.7 L484.5 208.7 L485.9 208.7 L487.2 208.7 L488.5 208.7 L489.8 208.7 L491.2 208.7 L492.5 208.6 L493.8 208.6 L495.0 208.6 L496.3 208.6 L497.6 208.6 L498.9 208.5 L500.1 208.5 L501.4 208.5 L502.6 208.4 L503.8 208.4 L505.1 208.3 L506.3 208.3 L507.5 208.2 L508.7 208.2 L510.2 208.1 L511.7 208.0 L513.1 207.9 L514.6 207.9 L516.0 207.8 L517.5 207.7 L518.9 207.6 L520.3 207.5 L521.7 207.4 L523.1 207.3 L524.5 207.1 L525.9 207.0 L527.2 206.9 L528.6 206.8 L529.9 206.6 L531.2 206.5 L532.6 206.4 L533.9 206.2 L535.2 206.1 L536.4 205.9 L537.7 205.8 L539.0 205.6 L540.2 205.5 L541.5 205.3 L542.7 205.1 L543.9 205.0 L545.2 204.8 L546.4 204.6 L547.6 204.4 L548.8 204.3 L550.2 204.0 L551.6 203.8 L553.0 203.6 L554.3 203.3 L555.7 203.1 L557.0 202.8 L558.4 202.6 L559.7 202.3 L561.0 202.1 L562.3 201.8 L563.6 201.5 L564.9 201.3 L566.1 201.0 L567.4 200.7 L568.6 200.4 L569.8 200.2 L571.0 199.9 L572.2 199.6 L573.4 199.3 L574.6 199.0 L575.8 198.7 L577.1 198.3 L578.4 198.0 L579.7 197.6 L581.0 197.2 L582.3 196.9 L583.6 196.5 L584.8 196.1 L586.1 195.7 L587.3 195.3 L588.5 194.9 L589.7 194.5 L590.9 194.1 L592.1 193.7 L593.2 193.3 L594.4 192.9 L595.5 192.5 L596.8 192.0 L598.0 191.6 L599.3 191.1 L600.5 190.6 L601.7 190.1 L602.9 189.6 L604.1 189.1 L605.2 188.6 L606.4 188.1 L607.5 187.6 L608.6 187.1 L609.7 186.6 L610.9 186.0 L612.1 185.4 L613.3 184.8 L614.5 184.2 L615.6 183.6 L616.7 183.0 L617.8 182.4 L618.9 181.8 L620.0 181.2 L621.0 180.6 L622.1 180.0 L623.2 179.3 L624.3 178.6 L625.4 178.0 L626.5 177.3 L627.6 176.6 L628.6 175.9 L629.6 175.2 L630.6 174.5 L631.6 173.8 L632.7 173.0 L633.7 172.3 L634.7 171.5 L635.7 170.7 L636.7 169.9 L637.6 169.2 L638.6 168.4 L639.5 167.6 L640.5 166.8 L641.4 165.9 L642.3 165.1 L643.2 164.2 L644.1 163.3 L645.0 162.5 L645.8 161.6 L646.7 160.7 L647.6 159.8 L648.5 158.9 L649.3 158.0 L650.1 157.0 L650.9 156.1 L651.7 155.1 L652.5 154.2 L653.3 153.2 L654.0 152.2 L654.7 151.2 L655.4 150.2 L656.2 149.2 L656.9 148.2 L657.5 147.1 L658.2 146.1 L658.8 145.1 L659.5 144.0 L660.1 142.9 L660.7 141.8 L661.3 140.8 L661.8 139.7 L662.4 138.6 L662.9 137.4 L663.5 136.3 L663.9 135.2 L664.4 134.1 L664.9 132.9 L665.3 131.8 L665.8 130.6 L666.2 129.4 L666.6 128.2 L666.9 127.1 L667.3 125.9 L667.6 124.7 L667.9 123.5 L668.2 122.3 L668.5 121.1 L668.7 119.9 L668.9 118.7 L669.1 117.5 L669.3 116.3 L669.5 115.1 L669.6 113.9 L669.7 112.6 L669.8 111.4 L669.9 110.2 L669.9 109.0 L670.0 107.7 L670.0 106.5 L669.9 105.3 L669.9 104.1 L669.8 102.9 L669.7 101.6 L669.6 100.4 L669.4 99.2 L669.3 98.0 L669.1 96.8 L668.8 95.5 L668.6 94.3 L668.3 93.1 L668.0 92.0 L667.7 90.8 L667.3 89.6 L666.9 88.5 L666.5 87.3 L666.0 86.2 L665.5 85.1 L665.0 83.9 L664.5 82.9 L663.9 81.8 L663.3 80.7 L662.7 79.7 L662.0 78.7 L661.3 77.7 L660.6 76.7 L659.8 75.8 L659.0 74.8 L658.2 74.0 L657.3 73.1 L656.4 72.3 L655.5 71.5 L654.6 70.7 L653.6 70.0 L652.6 69.3 L651.5 68.7 L650.5 68.1 L649.4 67.6 L648.3 67.1 L647.2 66.6 L646.0 66.2 L644.9 65.9 L643.7 65.6 L642.5 65.3 L641.3 65.1 L640.1 64.9 L638.9 64.8 L637.7 64.7 L636.5 64.7 L635.3 64.7 L634.0 64.7 L632.8 64.8 L631.6 65.0 L630.4 65.1 L629.2 65.3 L628.1 65.5 L626.9 65.8 L625.7 66.1 L624.5 66.4 L623.3 66.7 L622.2 67.1 L621.0 67.5 L619.9 67.9 L618.7 68.3 L617.6 68.7 L616.5 69.2 L615.4 69.7 L614.3 70.2 L613.2 70.7 L612.1 71.2 L611.0 71.8 L610.0 72.4 L608.9 72.9 L607.8 73.5 L606.8 74.1 L605.7 74.7 L604.7 75.4 L603.7 76.0 L602.6 76.6 L601.6 77.3 L600.6 77.9 L599.6 78.6 L598.6 79.3 L597.6 80.0 L596.6 80.7 L595.6 81.4 L594.6 82.1 L593.6 82.8 L592.6 83.6 L591.7 84.3 L590.7 85.1 L589.7 85.8 L588.7 86.6 L587.8 87.3 L586.8 88.1 L585.9 88.9 L584.9 89.6 L584.0 90.4 L583.1 91.2 L582.1 92.0 L581.2 92.8 L580.3 93.6 L579.3 94.4 L578.4 95.2 L577.5 96.0 L576.6 96.8 L575.7 97.6 L574.8 98.4 L573.9 99.2 L573.0 100.0 L572.1 100.8 L571.2 101.6 L570.4 102.5 L569.5 103.3 L568.6 104.1 L567.7 105.0 L566.8 105.8 L565.9 106.6 L565.1 107.5 L564.2 108.3 L563.3 109.1 L562.5 110.0 L561.6 110.9 L560.7 111.7 L559.9 112.6 L559.0 113.4 L558.1 114.3 L557.3 115.1 L556.4 116.0 L555.6 116.8 L554.7 117.7 L553.9 118.6 L553.0 119.4 L552.2 120.3 L551.3 121.1 L550.5 122.0 L549.6 122.9 L548.8 123.8 L547.9 124.6 L547.1 125.5 L546.3 126.4 L545.4 127.3 L544.6 128.1 L543.8 129.0 L542.9 129.9 L542.1 130.8 L541.2 131.6 L540.4 132.5 L539.6 133.4 L538.7 134.3 L537.9 135.2 L537.1 136.1 L536.3 136.9 L535.4 137.8 L534.6 138.7 L533.8 139.6 L533.0 140.5 L532.1 141.4 L531.3 142.2 L530.5 143.1 L529.7 144.0 L528.9 144.9 L528.0 145.8 L527.2 146.7 L526.4 147.6 L525.6 148.5 L524.8 149.4 L524.0 150.3 L523.1 151.2 L522.3 152.0 L521.5 152.9 L520.7 153.8 L519.9 154.7 L519.1 155.6 L518.2 156.5 L517.4 157.4 L516.6 158.3 L515.8 159.2 L515.0 160.1 L514.2 161.0 L513.4 161.9 L512.6 162.8 L511.8 163.7 L511.0 164.6 L510.1 165.5 L509.3 166.4 L508.5 167.3 L507.7 168.2 L506.9 169.1 L506.1 170.0 L505.3 170.9 L504.5 171.8 L503.7 172.7 L502.9 173.6 L502.1 174.5 L501.3 175.4 L500.5 176.3 L499.6 177.2 L498.8 178.1 L498.0 179.0 L497.5 179.6" stroke="#A3A500"/>
<path d="M472.0 203.5 L473.5 203.5 L474.9 203.6 L476.3 203.6 L477.7 203.6 L479.0 203.7 L480.4 203.7 L481.8 203.7 L483.2 203.7 L484.5 203.7 L485.9 203.8 L487.2 203.8 L488.5 203.8 L489.8 203.8 L491.2 203.8 L492.5 203.8 L493.8 203.8 L495.0 203.8 L496.3 203.8 L497.6 203.8 L498.9 203.7 L500.1 203.7 L501.4 203.7 L502.6 203.7 L503.8 203.7 L505.1 203.6 L506.3 203.6 L507.5 203.6 L508.7 203.6 L510.2 203.5 L511.7 203.5 L513.1 203.4 L514.6 203.4 L516.0 203.3 L517.5 203.3 L518.9 203.2 L520.3 203.1 L521.7 203.1 L523.1 203.0 L524.5 202.9 L525.9 202.8 L527.2 202.7 L528.6 202.7 L529.9 202.6 L531.2 202.5 L532.6 202.4 L533.9 202.3 L535.2 202.2 L536.4 202.1 L537.7 202.0 L539.0 201.9 L540.2 201.8 L541.5 201.7 L542.7 201.5 L543.9 201.4 L545.2 201.3 L546.4 201.2 L547.6 201.0 L549.0 200.9 L550.4 200.7 L551.8 200.6 L553.2 200.4 L554.6 200.2 L555.9 200.1 L557.3 199.9 L558.6 199.7 L559.9 199.5 L561.2 199.3 L562.5 199.1 L563.8 199.0 L565.1 198.8 L566.3 198.6 L567.6 198.4 L568.8 198.2 L570.0 197.9 L571.2 197.7 L572.4 197.5 L573.6 197.3 L575.0 197.1 L576.3 196.8 L577.7 196.5 L579.0 196.3 L580.3 196.0 L581.6 195.7 L582.9 195.4 L584.1 195.2 L585.4 194.9 L586.6 194.6 L587.8 194.3 L589.0 194.0 L590.2 193.7 L591.4 193.4 L592.6 193.1 L593.9 192.8 L595.2 192.4 L596.5 192.1 L597.7 191.7 L599.0 191.3 L600.2 191.0 L601.4 190.6 L602.6 190.2 L603.8 189.9 L604.9 189.5 L606.1 189.1 L607.4 188.7 L608.6 188.2 L609.8 187.8 L611.1 187.4 L612.3 186.9 L613.4 186.5 L614.6 186.0 L615.7 185.6 L616.9 185.1 L618.1 184.6 L619.3 184.1 L620.5 183.6 L621.6 183.0 L622.8 182.5 L623.9 182.0 L625.0 181.5 L626.1 180.9 L627.2 180.3 L628.4 179.7 L629.5 179.2 L630.6 178.6 L631.7 178.0 L632.7 177.4 L633.9 176.7 L635.0 176.0 L636.1 175.4 L637.1 174.7 L638.1 174.0 L639.1 173.4 L640.2 172.6 L641.2 171.9 L642.3 171.2 L643.2 170.5 L644.2 169.7 L645.2 168.9 L646.2 168.1 L647.1 167.3 L648.1 166.6 L649.0 165.7 L650.0 164.9 L650.9 164.0 L651.7 163.1 L652.6 162.3 L653.5 161.4 L654.3 160.5 L655.1 159.6 L656.0 158.6 L656.8 157.7 L657.5 156.7 L658.3 155.7 L659.0 154.7 L659.8 153.7 L660.4 152.7 L661.1 151.7 L661.8 150.6 L662.4 149.6 L663.0 148.5 L663.6 147.4 L664.2 146.3 L664.7 145.2 L665.2 144.1 L665.7 143.0 L666.2 141.9 L666.6 140.7 L667.1 139.5 L667.4 138.4 L667.8 137.2 L668.1 136.0 L668.4 134.9 L668.7 133.6 L669.0 132.4 L669.2 131.3 L669.4 130.0 L669.6 128.8 L669.7 127.6 L669.8 126.4 L669.9 125.2 L669.9 124.0 L670.0 122.7 L669.9 121.5 L669.9 120.3 L669.8 119.1 L669.7 117.8 L669.6 116.6 L669.5 115.4 L669.3 114.2 L669.1 113.0 L668.8 111.8 L668.6 110.6 L668.3 109.4 L668.0 108.3 L667.6 107.1 L667.2 105.9 L666.8 104.8 L666.4 103.6 L665.9 102.5 L665.5 101.4 L664.9 100.3 L664.4 99.2 L663.9 98.1 L663.3 97.0 L662.6 96.0 L662.0 95.0 L661.3 94.0 L660.6 93.0 L659.9 92.0 L659.2 91.0 L658.4 90.1 L657.6 89.2 L656.8 88.3 L656.0 87.4 L655.1 86.5 L654.2 85.7 L653.3 84.9 L652.4 84.1 L651.5 83.4 L650.5 82.6 L649.5 81.9 L648.5 81.2 L647.4 80.6 L646.4 80.0 L645.3 79.4 L644.2 78.9 L643.2 78.4 L642.0 77.9 L640.9 77.4 L639.8 77.0 L638.6 76.6 L637.5 76.3 L636.3 76.0 L635.1 75.7 L633.9 75.5 L632.7 75.3 L631.5 75.1 L630.3 74.9 L629.2 74.8 L627.9 74.8 L626.7 74.7 L625.5 74.7 L624.3 74.7 L623.1 74.8 L621.9 74.9 L620.7 75.0 L619.5 75.1 L618.3 75.3 L617.1 75.4 L615.9 75.7 L614.7 75.9 L613.6 76.1 L612.4 76.4 L611.2 76.7 L610.1 77.1 L608.9 77.4 L607.8 77.8 L606.6 78.2 L605.5 78.6 L604.3 79.0 L603.2 79.4 L602.1 79.9 L600.9 80.4 L599.8 80.8 L598.7 81.3 L597.6 81.9 L596.5 82.4 L595.5 82.9 L594.4 83.5 L593.3 84.0 L592.3 84.6 L591.2 85.2 L590.2 85.8 L589.1 86.4 L588.1 87.0 L587.0 87.6 L586.0 88.3 L585.0 88.9 L584.0 89.6 L582.9 90.2 L581.9 90.9 L580.9 91.6 L579.9 92.3 L578.9 92.9 L577.9 93.6 L577.0 94.4 L576.0 95.1 L575.0 95.8 L574.0 96.5 L573.1 97.2 L572.1 98.0 L571.1 98.7 L570.2 99.5 L569.2 100.2 L568.3 101.0 L567.4 101.7 L566.4 102.5 L565.5 103.2 L564.6 104.0 L563.6 104.8 L562.7 105.6 L561.8 106.4 L560.9 107.2 L559.9 108.0 L559.0 108.8 L558.1 109.6 L557.2 110.4 L556.3 111.2 L555.4 112.0 L554.5 112.8 L553.6 113.6 L552.7 114.4 L551.8 115.3 L551.0 116.1 L550.1 116.9 L549.2 117.7 L548.3 118.6 L547.4 119.4 L546.6 120.2 L545.7 121.1 L544.8 121.9 L544.0 122.8 L543.1 123.6 L542.2 124.5 L541.4 125.3 L540.5 126.2 L539.7 127.0 L538.8 127.9 L538.0 128.7 L537.1 129.6 L536.3 130.5 L535.4 131.3 L534.6 132.2 L533.7 133.1 L532.9 133.9 L532.0 134.8 L531.2 135.7 L530.4 136.6 L529.5 137.4 L528.7 138.3 L527.9 139.2 L527.0 140.1 L526.2 141.0 L525.4 141.8 L524.6 142.7 L523.7 143.6 L522.9 144.5 L522.1 145.4 L521.3 146.3 L520.5 147.1 L519.6 148.0 L518.8 148.9 L518.0 149.8 L517.2 150.7 L516.4 151.6 L515.6 152.5 L514.7 153.4 L513.9 154.3 L513.1 155.2 L512.3 156.1 L511.5 157.0 L510.7 157.9 L509.9 158.8 L509.1 159.7 L508.3 160.6 L507.5 161.5 L506.7 162.4 L505.9 163.3 L505.1 164.2 L504.3 165.1 L503.5 166.0 L502.7 166.9 L501.9 167.8 L501.1 168.7 L500.3 169.7 L499.5 170.6 L498.7 171.5 L497.9 172.4 L497.5 172.9" stroke="#39B600"/>
<path d="M472.0 196.4 L473.5 196.4 L474.9 196.5 L476.3 196.5 L477.7 196.5 L479.0 196.5 L480.4 196.6 L481.8 196.6 L483.2 196.6 L484.5 196.6 L485.9 196.6 L487.2 196.7 L488.5 196.7 L489.8 196.7 L491.2 196.7 L492.5 196.7 L493.8 196.7 L495.0 196.7 L496.3 196.7 L497.6 196.7 L498.9 196.7 L500.1 196.7 L501.4 196.7 L502.6 196.7 L503.8 196.7 L505.1 196.7 L506.3 196.7 L507.5 196.7 L508.7 196.7 L510.2 196.7 L511.7 196.6 L513.1 196.6 L514.6 196.6 L516.0 196.6 L517.5 196.5 L518.9 196.5 L520.3 196.5 L521.7 196.4 L523.1 196.4 L524.5 196.4 L525.9 196.3 L527.2 196.3 L528.6 196.2 L529.9 196.2 L531.2 196.1 L532.6 196.1 L533.9 196.0 L535.2 196.0 L536.4 195.9 L537.7 195.9 L539.0 195.8 L540.2 195.7 L541.5 195.7 L542.7 195.6 L543.9 195.5 L545.2 195.5 L546.4 195.4 L547.6 195.3 L549.0 195.2 L550.4 195.1 L551.8 195.0 L553.2 194.9 L554.6 194.8 L555.9 194.7 L557.3 194.6 L558.6 194.5 L559.9 194.4 L561.2 194.3 L562.5 194.2 L563.8 194.0 L565.1 193.9 L566.3 193.8 L567.6 193.7 L568.8 193.6 L570.0 193.4 L571.2 193.3 L572.4 193.2 L573.8 193.0 L575.2 192.8 L576.5 192.7 L577.9 192.5 L579.2 192.3 L580.5 192.2 L581.8 192.0 L583.0 191.8 L584.3 191.6 L585.6 191.5 L586.8 191.3 L588.0 191.1 L589.2 190.9 L590.4 190.7 L591.7 190.5 L593.1 190.3 L594.4 190.0 L595.7 189.8 L596.9 189.6 L598.2 189.3 L599.4 189.1 L600.6 188.9 L601.9 188.6 L603.0 188.4 L604.4 188.1 L605.7 187.8 L606.9 187.5 L608.2 187.3 L609.4 187.0 L610.7 186.7 L611.9 186.4 L613.0 186.1 L614.2 185.8 L615.5 185.5 L616.7 185.1 L618.0 184.8 L619.2 184.4 L620.3 184.1 L621.5 183.7 L622.8 183.4 L624.0 183.0 L625.2 182.6 L626.4 182.2 L627.6 181.8 L628.7 181.4 L629.9 180.9 L631.1 180.5 L632.3 180.0 L633.4 179.6 L634.5 179.2 L635.7 178.7 L636.8 178.2 L638.0 177.7 L639.1 177.2 L640.2 176.6 L641.3 176.1 L642.4 175.5 L643.5 175.0 L644.6 174.4 L645.7 173.8 L646.8 173.1 L647.9 172.5 L648.9 171.9 L650.0 171.2 L651.0 170.5 L652.0 169.8 L653.0 169.1 L654.0 168.3 L655.0 167.6 L655.9 166.8 L656.9 166.0 L657.8 165.2 L658.7 164.3 L659.5 163.5 L660.4 162.6 L661.2 161.7 L662.0 160.7 L662.8 159.8 L663.5 158.8 L664.2 157.8 L664.9 156.8 L665.5 155.7 L666.1 154.7 L666.7 153.6 L667.2 152.5 L667.7 151.4 L668.1 150.2 L668.5 149.1 L668.8 147.9 L669.1 146.7 L669.4 145.5 L669.6 144.3 L669.8 143.1 L669.9 141.9 L669.9 140.7 L670.0 139.5 L669.9 138.2 L669.9 137.0 L669.7 135.8 L669.6 134.6 L669.4 133.4 L669.1 132.2 L668.9 131.0 L668.5 129.9 L668.2 128.7 L667.8 127.5 L667.4 126.4 L666.9 125.3 L666.4 124.2 L665.9 123.0 L665.4 121.9 L664.8 120.9 L664.2 119.8 L663.6 118.8 L663.0 117.8 L662.3 116.7 L661.6 115.7 L660.9 114.8 L660.1 113.8 L659.4 112.8 L658.6 111.9 L657.8 111.0 L657.0 110.1 L656.2 109.2 L655.3 108.4 L654.5 107.5 L653.6 106.7 L652.7 105.8 L651.8 105.1 L650.8 104.3 L649.9 103.5 L648.9 102.8 L648.0 102.1 L647.0 101.3 L646.0 100.7 L645.0 100.0 L644.0 99.4 L642.9 98.7 L641.9 98.1 L640.8 97.5 L639.7 96.9 L638.6 96.4 L637.6 95.9 L636.5 95.4 L635.3 94.9 L634.2 94.4 L633.1 94.0 L632.0 93.5 L630.8 93.1 L629.7 92.8 L628.5 92.4 L627.3 92.1 L626.2 91.8 L625.0 91.5 L623.8 91.2 L622.6 91.0 L621.4 90.7 L620.2 90.6 L619.0 90.4 L617.9 90.2 L616.6 90.1 L615.4 90.0 L614.2 89.9 L613.0 89.8 L611.8 89.8 L610.6 89.8 L609.4 89.8 L608.2 89.8 L607.0 89.8 L605.7 89.9 L604.5 90.0 L603.3 90.1 L602.1 90.2 L600.9 90.4 L599.7 90.5 L598.5 90.7 L597.3 90.9 L596.1 91.1 L595.0 91.4 L593.8 91.6 L592.6 91.9 L591.4 92.2 L590.2 92.5 L589.1 92.8 L587.9 93.2 L586.8 93.5 L585.6 93.9 L584.5 94.3 L583.3 94.7 L582.2 95.1 L581.1 95.5 L579.9 95.9 L578.8 96.4 L577.7 96.9 L576.6 97.3 L575.4 97.8 L574.3 98.3 L573.2 98.8 L572.2 99.4 L571.1 99.9 L570.0 100.4 L568.9 101.0 L567.8 101.6 L566.8 102.1 L565.7 102.7 L564.7 103.3 L563.6 103.9 L562.6 104.5 L561.5 105.1 L560.5 105.8 L559.5 106.4 L558.4 107.0 L557.4 107.7 L556.4 108.4 L555.4 109.0 L554.4 109.7 L553.4 110.4 L552.4 111.0 L551.4 111.7 L550.4 112.4 L549.4 113.1 L548.4 113.9 L547.5 114.6 L546.5 115.3 L545.5 116.0 L544.6 116.8 L543.6 117.5 L542.7 118.2 L541.7 119.0 L540.8 119.7 L539.8 120.5 L538.9 121.3 L537.9 122.0 L537.0 122.8 L536.1 123.6 L535.2 124.3 L534.2 125.1 L533.3 125.9 L532.4 126.7 L531.5 127.5 L530.6 128.3 L529.7 129.1 L528.8 129.9 L527.9 130.7 L527.0 131.5 L526.1 132.4 L525.2 133.2 L524.3 134.0 L523.4 134.8 L522.6 135.7 L521.7 136.5 L520.8 137.3 L519.9 138.2 L519.1 139.0 L518.2 139.9 L517.3 140.7 L516.5 141.5 L515.6 142.4 L514.8 143.2 L513.9 144.1 L513.1 145.0 L512.2 145.8 L511.4 146.7 L510.5 147.5 L509.7 148.4 L508.8 149.3 L508.0 150.2 L507.2 151.0 L506.4 151.9 L505.5 152.8 L504.7 153.7 L503.9 154.6 L503.0 155.4 L502.2 156.3 L501.4 157.2 L500.6 158.1 L499.8 159.0 L499.0 159.9 L498.2 160.8 L497.5 161.5" stroke="#00BF7D"/>
<path d="M472.0 193.7 L473.5 193.8 L474.9 193.8 L476.3 193.8 L477.7 193.8 L479.0 193.9 L480.4 193.9 L481.8 193.9 L483.2 193.9 L484.5 193.9 L485.9 194.0 L487.2 194.0 L488.5 194.0 L489.8 194.0 L491.2 194.0 L492.5 194.0 L493.8 194.0 L495.0 194.0 L496.3 194.0 L497.6 194.0 L498.9 194.0 L500.1 194.0 L501.4 194.0 L502.6 194.0 L503.8 194.0 L505.1 194.0 L506.3 194.0 L507.5 194.0 L508.7 194.0 L510.2 194.0 L511.7 194.0 L513.1 194.0 L514.6 194.0 L516.0 194.0 L517.5 193.9 L518.9 193.9 L520.3 193.9 L521.7 193.9 L523.1 193.9 L524.5 193.8 L525.9 193.8 L527.2 193.8 L528.6 193.7 L529.9 193.7 L531.2 193.7 L532.6 193.6 L533.9 193.6 L535.2 193.6 L536.4 193.5 L537.7 193.5 L539.0 193.4 L540.2 193.4 L541.5 193.3 L542.7 193.3 L543.9 193.3 L545.2 193.2 L546.4 193.1 L547.8 193.1 L549.2 193.0 L550.6 193.0 L552.0 192.9 L553.4 192.8 L554.8 192.7 L556.1 192.7 L557.5 192.6 L558.8 192.5 L560.1 192.4 L561.4 192.3 L562.7 192.3 L564.0 192.2 L565.3 192.1 L566.5 192.0 L567.8 191.9 L569.0 191.8 L570.2 191.7 L571.4 191.6 L572.8 191.5 L574.2 191.4 L575.6 191.3 L576.9 191.1 L578.2 191.0 L579.6 190.9 L580.9 190.8 L582.1 190.6 L583.4 190.5 L584.7 190.4 L585.9 190.2 L587.1 190.1 L588.4 190.0 L589.5 189.8 L590.9 189.7 L592.2 189.5 L593.6 189.3 L594.9 189.2 L596.1 189.0 L597.4 188.8 L598.7 188.7 L599.9 188.5 L601.1 188.3 L602.3 188.1 L603.6 187.9 L604.9 187.7 L606.2 187.5 L607.5 187.3 L608.7 187.1 L610.0 186.8 L611.2 186.6 L612.4 186.4 L613.7 186.2 L615.0 185.9 L616.2 185.7 L617.5 185.4 L618.7 185.1 L619.9 184.9 L621.0 184.6 L622.3 184.3 L623.6 184.0 L624.8 183.7 L626.0 183.4 L627.1 183.1 L628.4 182.8 L629.6 182.5 L630.8 182.1 L632.0 181.8 L633.2 181.4 L634.4 181.1 L635.6 180.7 L636.8 180.3 L638.0 179.9 L639.1 179.5 L640.3 179.1 L641.5 178.6 L642.6 178.2 L643.8 177.7 L644.9 177.2 L646.1 176.8 L647.2 176.2 L648.3 175.7 L649.5 175.2 L650.6 174.6 L651.7 174.0 L652.8 173.4 L653.8 172.8 L654.9 172.2 L655.9 171.5 L657.0 170.8 L657.9 170.1 L658.9 169.4 L659.9 168.6 L660.8 167.8 L661.7 167.0 L662.6 166.2 L663.5 165.3 L664.3 164.4 L665.1 163.4 L665.8 162.4 L666.5 161.4 L667.1 160.4 L667.7 159.3 L668.2 158.2 L668.6 157.1 L669.0 156.0 L669.4 154.8 L669.6 153.6 L669.8 152.4 L669.9 151.2 L670.0 150.0 L669.9 148.8 L669.8 147.6 L669.7 146.4 L669.5 145.2 L669.2 144.0 L668.9 142.8 L668.5 141.7 L668.1 140.6 L667.7 139.4 L667.2 138.4 L666.7 137.3 L666.1 136.2 L665.5 135.2 L664.9 134.1 L664.2 133.1 L663.6 132.1 L662.9 131.2 L662.1 130.2 L661.4 129.2 L660.6 128.3 L659.8 127.4 L659.0 126.5 L658.2 125.6 L657.3 124.7 L656.4 123.9 L655.6 123.0 L654.7 122.2 L653.8 121.4 L652.8 120.6 L651.9 119.9 L651.0 119.1 L650.0 118.4 L649.0 117.6 L648.0 116.9 L647.1 116.2 L646.1 115.5 L645.0 114.9 L644.0 114.2 L643.0 113.6 L641.9 112.9 L640.9 112.3 L639.8 111.7 L638.8 111.2 L637.7 110.6 L636.6 110.1 L635.5 109.5 L634.4 109.0 L633.3 108.5 L632.2 108.0 L631.1 107.5 L630.0 107.1 L628.8 106.6 L627.7 106.2 L626.6 105.8 L625.4 105.4 L624.3 105.1 L623.1 104.7 L622.0 104.4 L620.8 104.0 L619.6 103.7 L618.4 103.4 L617.2 103.1 L616.1 102.9 L614.9 102.6 L613.7 102.4 L612.5 102.2 L611.3 102.0 L610.1 101.8 L608.9 101.7 L607.7 101.5 L606.5 101.4 L605.3 101.3 L604.1 101.2 L602.9 101.1 L601.6 101.1 L600.4 101.1 L599.2 101.0 L598.0 101.0 L596.8 101.0 L595.6 101.1 L594.4 101.1 L593.2 101.2 L592.0 101.3 L590.8 101.4 L589.6 101.5 L588.3 101.6 L587.2 101.7 L586.0 101.9 L584.8 102.1 L583.6 102.3 L582.4 102.5 L581.2 102.7 L580.0 102.9 L578.8 103.2 L577.6 103.4 L576.5 103.7 L575.3 104.0 L574.1 104.3 L572.9 104.6 L571.8 105.0 L570.6 105.3 L569.5 105.7 L568.3 106.1 L567.2 106.4 L566.0 106.8 L564.9 107.2 L563.8 107.7 L562.6 108.1 L561.5 108.5 L560.4 109.0 L559.3 109.5 L558.2 109.9 L557.1 110.4 L556.0 110.9 L554.9 111.4 L553.8 112.0 L552.7 112.5 L551.6 113.0 L550.5 113.6 L549.5 114.1 L548.4 114.7 L547.3 115.3 L546.3 115.8 L545.2 116.4 L544.2 117.0 L543.1 117.7 L542.1 118.3 L541.1 118.9 L540.0 119.5 L539.0 120.2 L538.0 120.8 L537.0 121.5 L535.9 122.1 L534.9 122.8 L533.9 123.5 L532.9 124.1 L531.9 124.8 L530.9 125.5 L530.0 126.2 L529.0 126.9 L528.0 127.6 L527.0 128.3 L526.1 129.1 L525.1 129.8 L524.1 130.5 L523.2 131.3 L522.2 132.0 L521.3 132.8 L520.3 133.5 L519.4 134.3 L518.5 135.0 L517.5 135.8 L516.6 136.6 L515.7 137.4 L514.8 138.1 L513.8 138.9 L512.9 139.7 L512.0 140.5 L511.1 141.3 L510.2 142.1 L509.3 142.9 L508.4 143.7 L507.5 144.5 L506.6 145.3 L505.7 146.2 L504.9 147.0 L504.0 147.8 L503.1 148.7 L502.2 149.5 L501.4 150.3 L500.5 151.2 L499.6 152.0 L498.8 152.9 L497.9 153.7 L497.5 154.1" stroke="#00BFC4"/>
<path d="M472.0 194.4 L473.5 194.4 L474.9 194.4 L476.3 194.4 L477.7 194.5 L479.0 194.5 L480.4 194.5 L481.8 194.5 L483.2 194.5 L484.5 194.5 L485.9 194.5 L487.2 194.6 L488.5 194.6 L489.8 194.6 L491.2 194.6 L492.5 194.6 L493.8 194.6 L495.0 194.6 L496.3 194.6 L497.6 194.6 L498.9 194.6 L500.1 194.6 L501.4 194.6 L502.6 194.6 L503.8 194.6 L505.1 194.6 L506.3 194.6 L507.5 194.6 L508.7 194.6 L510.2 194.6 L511.7 194.6 L513.1 194.6 L514.6 194.6 L516.0 194.5 L517.5 194.5 L518.9 194.5 L520.3 194.5 L521.7 194.5 L523.1 194.5 L524.5 194.4 L525.9 194.4 L527.2 194.4 L528.6 194.4 L529.9 194.3 L531.2 194.3 L532.6 194.3 L533.9 194.2 L535.2 194.2 L536.4 194.2 L537.7 194.1 L539.0 194.1 L540.2 194.1 L541.5 194.0 L542.7 194.0 L543.9 194.0 L545.2 193.9 L546.4 193.9 L547.8 193.8 L549.2 193.8 L550.6 193.7 L552.0 193.7 L553.4 193.6 L554.8 193.5 L556.1 193.5 L557.5 193.4 L558.8 193.3 L560.1 193.3 L561.4 193.2 L562.7 193.1 L564.0 193.1 L565.3 193.0 L566.5 192.9 L567.8 192.9 L569.0 192.8 L570.2 192.7 L571.4 192.6 L572.8 192.5 L574.2 192.4 L575.6 192.3 L576.9 192.2 L578.2 192.1 L579.6 192.0 L580.9 191.9 L582.1 191.8 L583.4 191.7 L584.7 191.6 L585.9 191.5 L587.1 191.4 L588.4 191.3 L589.5 191.2 L590.9 191.0 L592.2 190.9 L593.6 190.8 L594.9 190.6 L596.1 190.5 L597.4 190.4 L598.7 190.2 L599.9 190.1 L601.1 189.9 L602.3 189.8 L603.6 189.6 L604.9 189.4 L606.2 189.3 L607.5 189.1 L608.7 188.9 L610.0 188.7 L611.2 188.6 L612.4 188.4 L613.7 188.2 L615.0 188.0 L616.2 187.8 L617.5 187.6 L618.7 187.4 L619.9 187.1 L621.2 186.9 L622.4 186.7 L623.7 186.4 L624.9 186.2 L626.1 185.9 L627.4 185.7 L628.6 185.4 L629.8 185.1 L631.0 184.8 L632.3 184.5 L633.5 184.2 L634.7 183.9 L635.9 183.6 L637.1 183.3 L638.3 183.0 L639.5 182.6 L640.7 182.3 L641.9 181.9 L643.0 181.5 L644.2 181.1 L645.4 180.7 L646.5 180.3 L647.7 179.9 L648.8 179.4 L650.0 179.0 L651.1 178.5 L652.3 178.0 L653.4 177.4 L654.5 176.9 L655.6 176.3 L656.7 175.7 L657.7 175.1 L658.7 174.5 L659.8 173.8 L660.7 173.1 L661.7 172.4 L662.7 171.6 L663.6 170.8 L664.5 170.0 L665.3 169.1 L666.1 168.2 L666.9 167.2 L667.5 166.2 L668.1 165.1 L668.7 164.0 L669.1 162.9 L669.5 161.8 L669.7 160.6 L669.9 159.4 L670.0 158.2 L669.9 157.0 L669.8 155.7 L669.6 154.5 L669.3 153.3 L669.0 152.2 L668.6 151.1 L668.1 149.9 L667.6 148.8 L667.1 147.8 L666.5 146.7 L665.8 145.7 L665.2 144.7 L664.5 143.7 L663.7 142.7 L663.0 141.7 L662.2 140.8 L661.4 139.9 L660.6 139.0 L659.7 138.2 L658.8 137.3 L658.0 136.5 L657.1 135.6 L656.2 134.8 L655.2 134.0 L654.3 133.2 L653.3 132.5 L652.4 131.7 L651.4 131.0 L650.4 130.3 L649.4 129.6 L648.4 128.9 L647.4 128.2 L646.4 127.5 L645.4 126.9 L644.4 126.2 L643.3 125.6 L642.3 125.0 L641.2 124.4 L640.2 123.8 L639.1 123.2 L638.0 122.6 L636.9 122.1 L635.9 121.6 L634.8 121.0 L633.7 120.5 L632.6 120.0 L631.5 119.5 L630.3 119.0 L629.2 118.6 L628.1 118.1 L627.0 117.7 L625.8 117.2 L624.7 116.8 L623.5 116.4 L622.4 116.0 L621.3 115.6 L620.1 115.3 L619.0 114.9 L617.8 114.6 L616.6 114.2 L615.5 113.9 L614.3 113.6 L613.1 113.3 L611.9 113.1 L610.7 112.8 L609.6 112.6 L608.4 112.3 L607.2 112.1 L606.0 111.9 L604.8 111.7 L603.6 111.5 L602.4 111.3 L601.2 111.2 L600.0 111.0 L598.8 110.9 L597.6 110.8 L596.4 110.7 L595.2 110.6 L594.0 110.6 L592.8 110.5 L591.6 110.5 L590.3 110.4 L589.1 110.4 L587.9 110.4 L586.7 110.4 L585.5 110.5 L584.3 110.5 L583.1 110.6 L581.9 110.6 L580.7 110.7 L579.5 110.8 L578.3 110.9 L577.1 111.1 L575.9 111.2 L574.7 111.3 L573.5 111.5 L572.3 111.7 L571.1 111.9 L569.9 112.1 L568.7 112.3 L567.5 112.5 L566.3 112.8 L565.2 113.0 L564.0 113.3 L562.8 113.6 L561.6 113.9 L560.5 114.2 L559.3 114.5 L558.1 114.9 L557.0 115.2 L555.8 115.6 L554.7 115.9 L553.5 116.3 L552.4 116.7 L551.3 117.1 L550.1 117.5 L549.0 117.9 L547.9 118.4 L546.7 118.8 L545.6 119.3 L544.5 119.7 L543.4 120.2 L542.3 120.7 L541.2 121.2 L540.1 121.7 L539.0 122.2 L537.9 122.7 L536.8 123.3 L535.7 123.8 L534.7 124.3 L533.6 124.9 L532.5 125.5 L531.5 126.1 L530.4 126.6 L529.3 127.2 L528.3 127.8 L527.3 128.4 L526.2 129.1 L525.2 129.7 L524.1 130.3 L523.1 130.9 L522.1 131.6 L521.1 132.2 L520.1 132.9 L519.1 133.6 L518.1 134.2 L517.1 134.9 L516.1 135.6 L515.1 136.3 L514.1 137.0 L513.1 137.7 L512.1 138.4 L511.2 139.1 L510.2 139.9 L509.2 140.6 L508.3 141.3 L507.3 142.1 L506.4 142.8 L505.4 143.6 L504.5 144.3 L503.5 145.1 L502.6 145.8 L501.7 146.6 L500.7 147.4 L499.8 148.2 L498.9 148.9 L498.0 149.7 L497.5 150.2" stroke="#00B0F6"/>
<path d="M472.0 202.5 L473.5 202.5 L474.9 202.5 L476.3 202.5 L477.7 202.5 L479.0 202.5 L480.4 202.5 L481.8 202.5 L483.2 202.5 L484.5 202.5 L485.9 202.5 L487.2 202.5 L488.5 202.5 L489.8 202.5 L491.2 202.5 L492.5 202.5 L493.8 202.5 L495.0 202.5 L496.3 202.5 L497.6 202.5 L498.9 202.5 L500.1 202.5 L501.4 202.5 L502.6 202.5 L503.8 202.5 L505.1 202.5 L506.3 202.5 L507.5 202.5 L508.7 202.5 L510.2 202.5 L511.7 202.5 L513.1 202.4 L514.6 202.4 L516.0 202.4 L517.5 202.4 L518.9 202.4 L520.3 202.4 L521.7 202.4 L523.1 202.3 L524.5 202.3 L525.9 202.3 L527.2 202.3 L528.6 202.2 L529.9 202.2 L531.2 202.2 L532.6 202.2 L533.9 202.2 L535.2 202.1 L536.4 202.1 L537.7 202.1 L539.0 202.0 L540.2 202.0 L541.5 202.0 L542.7 202.0 L543.9 201.9 L545.2 201.9 L546.4 201.9 L547.8 201.8 L549.2 201.8 L550.6 201.7 L552.0 201.7 L553.4 201.6 L554.8 201.6 L556.1 201.5 L557.5 201.5 L558.8 201.4 L560.1 201.4 L561.4 201.3 L562.7 201.3 L564.0 201.2 L565.3 201.2 L566.5 201.1 L567.8 201.1 L569.0 201.0 L570.2 201.0 L571.4 200.9 L572.8 200.8 L574.2 200.8 L575.6 200.7 L576.9 200.6 L578.2 200.5 L579.6 200.5 L580.9 200.4 L582.1 200.3 L583.4 200.2 L584.7 200.2 L585.9 200.1 L587.1 200.0 L588.4 199.9 L589.5 199.8 L590.9 199.7 L592.2 199.6 L593.6 199.5 L594.9 199.4 L596.1 199.3 L597.4 199.2 L598.7 199.1 L599.9 199.0 L601.1 198.9 L602.3 198.8 L603.6 198.7 L604.9 198.5 L606.2 198.4 L607.5 198.3 L608.7 198.2 L610.0 198.0 L611.2 197.9 L612.4 197.8 L613.7 197.6 L615.0 197.5 L616.2 197.3 L617.5 197.2 L618.7 197.0 L619.9 196.9 L621.2 196.7 L622.4 196.5 L623.7 196.3 L624.9 196.2 L626.1 196.0 L627.4 195.8 L628.6 195.6 L629.8 195.4 L631.0 195.2 L632.3 195.0 L633.5 194.8 L634.7 194.5 L636.0 194.3 L637.2 194.1 L638.4 193.8 L639.6 193.6 L640.9 193.3 L642.0 193.0 L643.2 192.7 L644.4 192.4 L645.6 192.1 L646.8 191.8 L648.0 191.5 L649.2 191.2 L650.3 190.8 L651.5 190.4 L652.7 190.0 L653.8 189.6 L655.0 189.2 L656.1 188.8 L657.2 188.3 L658.4 187.8 L659.5 187.3 L660.6 186.8 L661.6 186.2 L662.7 185.6 L663.7 184.9 L664.7 184.2 L665.6 183.4 L666.5 182.6 L667.4 181.7 L668.1 180.7 L668.8 179.7 L669.3 178.6 L669.7 177.5 L669.9 176.3 L670.0 175.1 L669.9 173.9 L669.6 172.7 L669.3 171.6 L668.8 170.4 L668.2 169.4 L667.6 168.3 L666.9 167.3 L666.2 166.3 L665.5 165.4 L664.7 164.5 L663.9 163.6 L663.0 162.8 L662.1 161.9 L661.2 161.1 L660.3 160.3 L659.4 159.5 L658.4 158.8 L657.5 158.0 L656.5 157.3 L655.5 156.6 L654.5 155.9 L653.5 155.2 L652.5 154.6 L651.5 153.9 L650.5 153.3 L649.4 152.6 L648.4 152.0 L647.4 151.4 L646.3 150.8 L645.2 150.2 L644.2 149.6 L643.1 149.0 L642.0 148.4 L641.0 147.9 L639.9 147.3 L638.8 146.8 L637.7 146.3 L636.6 145.8 L635.5 145.2 L634.4 144.7 L633.3 144.2 L632.2 143.7 L631.1 143.3 L630.0 142.8 L628.8 142.3 L627.7 141.9 L626.6 141.4 L625.5 141.0 L624.3 140.5 L623.2 140.1 L622.0 139.7 L620.9 139.3 L619.8 138.9 L618.6 138.5 L617.5 138.1 L616.3 137.7 L615.2 137.4 L614.0 137.0 L612.9 136.7 L611.7 136.3 L610.5 136.0 L609.4 135.7 L608.2 135.3 L607.0 135.0 L605.9 134.7 L604.7 134.4 L603.5 134.2 L602.3 133.9 L601.1 133.6 L599.9 133.4 L598.8 133.1 L597.6 132.9 L596.4 132.6 L595.2 132.4 L594.0 132.2 L592.8 132.0 L591.6 131.8 L590.4 131.6 L589.2 131.4 L588.0 131.3 L586.8 131.1 L585.6 131.0 L584.4 130.8 L583.2 130.7 L582.0 130.6 L580.8 130.5 L579.6 130.4 L578.4 130.3 L577.2 130.2 L576.0 130.1 L574.8 130.1 L573.6 130.0 L572.4 130.0 L571.2 129.9 L570.0 129.9 L568.7 129.9 L567.5 129.9 L566.3 129.9 L565.1 130.0 L563.9 130.0 L562.7 130.0 L561.5 130.1 L560.3 130.1 L559.1 130.2 L557.9 130.3 L556.7 130.4 L555.5 130.5 L554.3 130.6 L553.1 130.8 L551.9 130.9 L550.7 131.0 L549.5 131.2 L548.3 131.4 L547.1 131.6 L545.9 131.8 L544.7 132.0 L543.5 132.2 L542.3 132.4 L541.1 132.6 L540.0 132.9 L538.8 133.1 L537.6 133.4 L536.4 133.7 L535.2 134.0 L534.1 134.3 L532.9 134.6 L531.7 134.9 L530.6 135.2 L529.4 135.6 L528.3 135.9 L527.1 136.3 L526.0 136.7 L524.8 137.0 L523.7 137.4 L522.5 137.8 L521.4 138.2 L520.3 138.7 L519.1 139.1 L518.0 139.5 L516.9 140.0 L515.8 140.4 L514.7 140.9 L513.5 141.4 L512.4 141.9 L511.4 142.4 L510.3 142.9 L509.2 143.4 L508.1 143.9 L507.0 144.5 L505.9 145.0 L504.8 145.5 L503.8 146.1 L502.7 146.7 L501.6 147.2 L500.6 147.8 L499.5 148.4 L498.5 149.0 L497.5 149.6" stroke="#9590FF"/>
<path d="M472.0 212.6 L473.5 212.6 L474.9 212.6 L476.3 212.6 L477.7 212.6 L479.0 212.6 L480.4 212.6 L481.8 212.6 L483.2 212.6 L484.5 212.6 L485.9 212.6 L487.2 212.6 L488.5 212.6 L489.8 212.6 L491.2 212.6 L492.5 212.6 L493.8 212.6 L495.0 212.6 L496.3 212.6 L497.6 212.6 L498.9 212.6 L500.1 212.6 L501.4 212.6 L502.6 212.6 L503.8 212.6 L505.1 212.6 L506.3 212.6 L507.5 212.6 L508.7 212.5 L510.2 212.5 L511.7 212.5 L513.1 212.5 L514.6 212.5 L516.0 212.5 L517.5 212.5 L518.9 212.4 L520.3 212.4 L521.7 212.4 L523.1 212.4 L524.5 212.4 L525.9 212.3 L527.2 212.3 L528.6 212.3 L529.9 212.3 L531.2 212.3 L532.6 212.2 L533.9 212.2 L535.2 212.2 L536.4 212.2 L537.7 212.1 L539.0 212.1 L540.2 212.1 L541.5 212.0 L542.7 212.0 L543.9 212.0 L545.2 212.0 L546.4 211.9 L547.8 211.9 L549.2 211.9 L550.6 211.8 L552.0 211.8 L553.4 211.7 L554.8 211.7 L556.1 211.7 L557.5 211.6 L558.8 211.6 L560.1 211.5 L561.4 211.5 L562.7 211.4 L564.0 211.4 L565.3 211.3 L566.5 211.3 L567.8 211.2 L569.0 211.2 L570.2 211.1 L571.4 211.1 L572.8 211.0 L574.2 211.0 L575.6 210.9 L576.9 210.9 L578.2 210.8 L579.6 210.7 L580.9 210.7 L582.1 210.6 L583.4 210.5 L584.7 210.5 L585.9 210.4 L587.1 210.3 L588.4 210.3 L589.5 210.2 L590.9 210.1 L592.2 210.0 L593.6 209.9 L594.9 209.9 L596.1 209.8 L597.4 209.7 L598.7 209.6 L599.9 209.5 L601.1 209.4 L602.3 209.3 L603.6 209.2 L604.9 209.1 L606.2 209.0 L607.5 208.9 L608.7 208.8 L610.0 208.7 L611.2 208.6 L612.5 208.5 L613.8 208.4 L615.1 208.2 L616.4 208.1 L617.6 208.0 L618.8 207.9 L620.1 207.7 L621.4 207.6 L622.7 207.4 L623.9 207.3 L625.1 207.2 L626.4 207.0 L627.7 206.8 L628.9 206.7 L630.1 206.5 L631.4 206.3 L632.7 206.2 L633.9 206.0 L635.1 205.8 L636.3 205.6 L637.5 205.4 L638.7 205.2 L640.0 205.0 L641.2 204.8 L642.4 204.5 L643.6 204.3 L644.9 204.0 L646.1 203.8 L647.3 203.5 L648.5 203.3 L649.7 203.0 L650.9 202.7 L652.0 202.4 L653.2 202.0 L654.4 201.7 L655.5 201.3 L656.7 201.0 L657.8 200.6 L659.0 200.1 L660.1 199.7 L661.2 199.2 L662.3 198.7 L663.4 198.1 L664.5 197.5 L665.5 196.9 L666.5 196.1 L667.4 195.4 L668.2 194.5 L668.9 193.5 L669.5 192.4 L669.8 191.3 L670.0 190.1 L669.8 188.9 L669.5 187.7 L669.1 186.6 L668.5 185.5 L667.8 184.5 L667.1 183.6 L666.3 182.6 L665.4 181.8 L664.5 180.9 L663.6 180.1 L662.7 179.4 L661.8 178.6 L660.8 177.9 L659.8 177.2 L658.8 176.5 L657.8 175.8 L656.8 175.1 L655.8 174.5 L654.8 173.8 L653.7 173.2 L652.7 172.6 L651.6 172.0 L650.6 171.4 L649.5 170.8 L648.5 170.3 L647.4 169.7 L646.3 169.1 L645.2 168.6 L644.1 168.1 L643.0 167.5 L641.9 167.0 L640.8 166.5 L639.7 166.0 L638.6 165.5 L637.5 165.0 L636.4 164.5 L635.3 164.0 L634.2 163.6 L633.1 163.1 L632.0 162.6 L630.8 162.2 L629.7 161.7 L628.6 161.3 L627.5 160.8 L626.3 160.4 L625.2 160.0 L624.0 159.6 L622.9 159.2 L621.8 158.8 L620.6 158.4 L619.5 158.0 L618.3 157.6 L617.2 157.2 L616.0 156.8 L614.9 156.4 L613.7 156.1 L612.6 155.7 L611.4 155.3 L610.2 155.0 L609.1 154.7 L607.9 154.3 L606.8 154.0 L605.6 153.7 L604.4 153.3 L603.3 153.0 L602.1 152.7 L600.9 152.4 L599.7 152.1 L598.6 151.8 L597.4 151.5 L596.2 151.3 L595.0 151.0 L593.9 150.7 L592.7 150.5 L591.5 150.2 L590.3 150.0 L589.1 149.7 L587.9 149.5 L586.7 149.3 L585.5 149.1 L584.3 148.8 L583.2 148.6 L582.0 148.4 L580.8 148.3 L579.6 148.1 L578.4 147.9 L577.2 147.7 L576.0 147.6 L574.8 147.4 L573.6 147.3 L572.4 147.1 L571.2 147.0 L570.0 146.9 L568.8 146.7 L567.6 146.6 L566.4 146.5 L565.1 146.4 L563.9 146.3 L562.7 146.3 L561.5 146.2 L560.3 146.1 L559.1 146.1 L557.9 146.0 L556.7 146.0 L555.5 145.9 L554.3 145.9 L553.1 145.9 L551.9 145.9 L550.6 145.9 L549.4 145.9 L548.2 145.9 L547.0 146.0 L545.8 146.0 L544.6 146.1 L543.4 146.1 L542.2 146.2 L541.0 146.3 L539.8 146.3 L538.6 146.4 L537.4 146.5 L536.2 146.6 L535.0 146.8 L533.8 146.9 L532.6 147.0 L531.4 147.2 L530.2 147.3 L529.0 147.5 L527.8 147.7 L526.6 147.9 L525.4 148.1 L524.2 148.3 L523.0 148.5 L521.8 148.7 L520.6 148.9 L519.5 149.2 L518.3 149.4 L517.1 149.7 L515.9 150.0 L514.8 150.3 L513.6 150.5 L512.4 150.8 L511.3 151.2 L510.1 151.5 L508.9 151.8 L507.8 152.2 L506.6 152.5 L505.5 152.9 L504.3 153.2 L503.2 153.6 L502.1 154.0 L500.9 154.4 L499.8 154.8 L498.6 155.2 L497.5 155.7 L497.5 155.7" stroke="#E76BF3"/>
<path d="M472.0 222.0 L473.5 222.0 L474.9 222.0 L476.3 222.0 L477.7 222.0 L479.0 222.0 L480.4 222.0 L481.8 222.0 L483.2 222.0 L484.5 222.0 L485.9 222.0 L487.2 222.0 L488.5 222.0 L489.8 222.0 L491.2 222.0 L492.5 222.0 L493.8 222.0 L495.0 221.9 L496.3 221.9 L497.6 221.9 L498.9 221.9 L500.1 221.9 L501.4 221.9 L502.6 221.9 L503.8 221.9 L505.1 221.9 L506.3 221.9 L507.5 221.9 L508.7 221.8 L510.2 221.8 L511.7 221.8 L513.1 221.8 L514.6 221.8 L516.0 221.8 L517.5 221.8 L518.9 221.7 L520.3 221.7 L521.7 221.7 L523.1 221.7 L524.5 221.7 L525.9 221.6 L527.2 221.6 L528.6 221.6 L529.9 221.6 L531.2 221.6 L532.6 221.5 L533.9 221.5 L535.2 221.5 L536.4 221.5 L537.7 221.4 L539.0 221.4 L540.2 221.4 L541.5 221.4 L542.7 221.3 L543.9 221.3 L545.2 221.3 L546.4 221.3 L547.8 221.2 L549.2 221.2 L550.6 221.1 L552.0 221.1 L553.4 221.1 L554.8 221.0 L556.1 221.0 L557.5 221.0 L558.8 220.9 L560.1 220.9 L561.4 220.8 L562.7 220.8 L564.0 220.8 L565.3 220.7 L566.5 220.7 L567.8 220.6 L569.0 220.6 L570.2 220.5 L571.4 220.5 L572.8 220.5 L574.2 220.4 L575.6 220.3 L576.9 220.3 L578.2 220.2 L579.6 220.2 L580.9 220.1 L582.1 220.1 L583.4 220.0 L584.7 219.9 L585.9 219.9 L587.1 219.8 L588.4 219.8 L589.5 219.7 L590.9 219.6 L592.2 219.6 L593.6 219.5 L594.9 219.4 L596.1 219.3 L597.4 219.3 L598.7 219.2 L599.9 219.1 L601.1 219.0 L602.3 219.0 L603.6 218.9 L604.9 218.8 L606.2 218.7 L607.5 218.6 L608.7 218.5 L610.0 218.4 L611.2 218.3 L612.5 218.2 L613.8 218.1 L615.1 218.0 L616.4 217.9 L617.6 217.8 L618.8 217.7 L620.1 217.6 L621.4 217.4 L622.7 217.3 L623.9 217.2 L625.1 217.1 L626.4 216.9 L627.7 216.8 L628.9 216.7 L630.1 216.5 L631.4 216.4 L632.7 216.2 L633.9 216.1 L635.1 215.9 L636.3 215.7 L637.5 215.6 L638.7 215.4 L640.0 215.2 L641.2 215.0 L642.4 214.8 L643.6 214.6 L644.9 214.4 L646.1 214.2 L647.3 214.0 L648.5 213.7 L649.7 213.5 L650.9 213.2 L652.1 213.0 L653.3 212.7 L654.5 212.4 L655.7 212.0 L656.9 211.7 L658.1 211.4 L659.2 211.0 L660.4 210.6 L661.6 210.1 L662.7 209.7 L663.8 209.2 L664.9 208.6 L665.9 208.0 L666.9 207.3 L667.9 206.6 L668.7 205.7 L669.4 204.7 L669.8 203.6 L670.0 202.4 L669.8 201.2 L669.4 200.0 L668.8 199.0 L668.1 198.0 L667.3 197.1 L666.5 196.2 L665.6 195.4 L664.7 194.6 L663.7 193.8 L662.8 193.1 L661.8 192.4 L660.7 191.8 L659.7 191.1 L658.7 190.5 L657.6 189.8 L656.6 189.2 L655.5 188.6 L654.5 188.1 L653.4 187.5 L652.3 186.9 L651.2 186.4 L650.2 185.8 L649.1 185.3 L648.0 184.8 L646.9 184.3 L645.8 183.8 L644.7 183.3 L643.6 182.8 L642.4 182.3 L641.3 181.8 L640.2 181.3 L639.1 180.9 L638.0 180.4 L636.8 179.9 L635.7 179.5 L634.6 179.1 L633.4 178.6 L632.3 178.2 L631.2 177.7 L630.0 177.3 L628.9 176.9 L627.8 176.5 L626.6 176.1 L625.5 175.7 L624.3 175.3 L623.2 174.9 L622.1 174.5 L620.9 174.1 L619.8 173.7 L618.6 173.3 L617.5 173.0 L616.3 172.6 L615.1 172.2 L614.0 171.9 L612.8 171.5 L611.7 171.2 L610.5 170.8 L609.3 170.5 L608.2 170.1 L607.0 169.8 L605.9 169.5 L604.7 169.1 L603.5 168.8 L602.3 168.5 L601.2 168.2 L600.0 167.9 L598.8 167.6 L597.7 167.3 L596.5 167.0 L595.3 166.7 L594.1 166.4 L593.0 166.1 L591.8 165.9 L590.6 165.6 L589.4 165.3 L588.2 165.1 L587.1 164.8 L585.9 164.6 L584.7 164.3 L583.5 164.1 L582.3 163.8 L581.1 163.6 L579.9 163.4 L578.7 163.2 L577.5 163.0 L576.3 162.8 L575.2 162.6 L574.0 162.4 L572.8 162.2 L571.6 162.0 L570.4 161.8 L569.2 161.6 L568.0 161.5 L566.8 161.3 L565.6 161.1 L564.4 161.0 L563.2 160.8 L562.0 160.7 L560.8 160.6 L559.6 160.4 L558.4 160.3 L557.2 160.2 L556.0 160.1 L554.8 160.0 L553.6 159.9 L552.4 159.8 L551.2 159.7 L549.9 159.7 L548.7 159.6 L547.5 159.5 L546.3 159.5 L545.1 159.4 L543.9 159.4 L542.7 159.4 L541.5 159.3 L540.3 159.3 L539.1 159.3 L537.9 159.3 L536.7 159.3 L535.4 159.3 L534.2 159.3 L533.0 159.4 L531.8 159.4 L530.6 159.4 L529.4 159.5 L528.2 159.5 L527.0 159.6 L525.8 159.7 L524.6 159.8 L523.4 159.8 L522.2 159.9 L521.0 160.1 L519.8 160.2 L518.6 160.3 L517.4 160.4 L516.2 160.6 L515.0 160.7 L513.8 160.9 L512.6 161.0 L511.4 161.2 L510.2 161.4 L509.0 161.6 L507.8 161.8 L506.7 162.0 L505.5 162.2 L504.3 162.5 L503.1 162.7 L501.9 163.0 L500.7 163.2 L499.6 163.5 L498.4 163.8 L497.5 164.0" stroke="#FF62BC"/></g>
<g clip-path="url(#c2)"><circle cx="528.8" cy="194.4" r="5.8" fill="#00B0F6"/>
<circle cx="528.8" cy="193.7" r="5.8" fill="#00BFC4"/>
<circle cx="528.8" cy="202.2" r="5.8" fill="#9590FF"/>
<circle cx="528.8" cy="206.8" r="5.8" fill="#A3A500"/>
<circle cx="528.8" cy="202.6" r="5.8" fill="#39B600"/>
<circle cx="528.8" cy="196.2" r="5.8" fill="#00BF7D"/>
<circle cx="528.8" cy="212.3" r="5.8" fill="#E76BF3"/>
<circle cx="528.8" cy="210.2" r="5.8" fill="#D89000"/>
<circle cx="528.8" cy="210.4" r="5.8" fill="#F8766D"/>
<circle cx="528.8" cy="221.6" r="5.8" fill="#FF62BC"/>
<circle cx="528.7" cy="127.6" r="5.8" fill="#00B0F6"/>
<circle cx="528.7" cy="135.8" r="5.8" fill="#9590FF"/>
<circle cx="528.7" cy="159.5" r="5.8" fill="#FF62BC"/>
<circle cx="528.7" cy="138.3" r="5.8" fill="#39B600"/>
<circle cx="528.7" cy="145.1" r="5.8" fill="#A3A500"/>
<circle cx="528.7" cy="153.0" r="5.8" fill="#D89000"/>
<circle cx="528.7" cy="130.0" r="5.8" fill="#00BF7D"/>
<circle cx="528.7" cy="127.1" r="5.8" fill="#00BFC4"/>
<circle cx="528.7" cy="147.5" r="5.8" fill="#E76BF3"/>
<circle cx="528.7" cy="160.9" r="5.8" fill="#F8766D"/></g>
<rect x="373.70" y="1.50" width="311.30" height="24.10" fill="#D9D9D9"/>
<line x1="683.9" x2="683.9" y1="1.05" y2="317.40" stroke="#A3A3A3" stroke-width="2.2"/>
<path d="M683.4 1.50 H373.70 V25.60 H683.4" fill="none" stroke="#333" stroke-width="0.9"/>
<path d="M683.4 25.60 H373.70 V316.95 H683.4" fill="none" stroke="#333" stroke-width="0.9"/>
<text class="st" x="528.60" y="18.20" text-anchor="middle" id="strip2">dosing interval 2</text>
<text class="ax" x="387.50" y="333.90" text-anchor="middle">0</text>
<text class="ax" x="465.68" y="333.90" text-anchor="middle">30</text>
<text class="ax" x="543.86" y="333.90" text-anchor="middle">60</text>
<text class="ax" x="622.04" y="333.90" text-anchor="middle">90</text>
<g stroke="#333" stroke-width="1.5"><line x1="387.50" x2="387.50" y1="316.95" y2="321.55"/><line x1="465.68" x2="465.68" y1="316.95" y2="321.55"/><line x1="543.86" x2="543.86" y1="316.95" y2="321.55"/><line x1="622.04" x2="622.04" y1="316.95" y2="321.55"/></g>
<text class="ax" x="46.90" y="308.30" text-anchor="end">0</text>
<text class="ax" x="46.90" y="245.56" text-anchor="end">25</text>
<text class="ax" x="46.90" y="182.82" text-anchor="end">50</text>
<text class="ax" x="46.90" y="120.09" text-anchor="end">75</text>
<text class="ax" x="46.90" y="57.35" text-anchor="end">100</text>
<g stroke="#333" stroke-width="1.5"><line x1="49.90" x2="54.50" y1="304.05" y2="304.05"/><line x1="49.90" x2="54.50" y1="241.31" y2="241.31"/><line x1="49.90" x2="54.50" y1="178.57" y2="178.57"/><line x1="49.90" x2="54.50" y1="115.84" y2="115.84"/><line x1="49.90" x2="54.50" y1="53.10" y2="53.10"/></g>
<text class="tt" id="xt" x="369.50" y="351.90" text-anchor="middle" style="font-size:16.3px">Concentration</text>
<text class="tt" id="yt" transform="translate(14.8,170.40) rotate(-90) scale(1.12,1)" text-anchor="middle" style="font-size:15px">ΔQTc (ms)</text>
<text class="tt" x="90" y="395.5" id="lt">τ<tspan dx="0.8" dy="3.2" style="font-size:11.6px">0</tspan></text>
<line x1="114.90" x2="135.50" y1="392.40" y2="392.40" stroke="#F8766D" stroke-width="1.89"/>
<circle cx="125.20" cy="392.40" r="5.8" fill="#F8766D"/>
<text class="lg" x="153.40" y="397.00" text-anchor="middle">1</text>
<line x1="168.00" x2="188.60" y1="392.40" y2="392.40" stroke="#D89000" stroke-width="1.89"/>
<circle cx="178.30" cy="392.40" r="5.8" fill="#D89000"/>
<text class="lg" x="206.50" y="397.00" text-anchor="middle">2</text>
<line x1="221.00" x2="241.60" y1="392.40" y2="392.40" stroke="#A3A500" stroke-width="1.89"/>
<circle cx="231.30" cy="392.40" r="5.8" fill="#A3A500"/>
<text class="lg" x="259.50" y="397.00" text-anchor="middle">3</text>
<line x1="274.10" x2="294.70" y1="392.40" y2="392.40" stroke="#39B600" stroke-width="1.89"/>
<circle cx="284.40" cy="392.40" r="5.8" fill="#39B600"/>
<text class="lg" x="312.60" y="397.00" text-anchor="middle">4</text>
<line x1="327.20" x2="347.80" y1="392.40" y2="392.40" stroke="#00BF7D" stroke-width="1.89"/>
<circle cx="337.50" cy="392.40" r="5.8" fill="#00BF7D"/>
<text class="lg" x="365.70" y="397.00" text-anchor="middle">6</text>
<line x1="379.90" x2="400.50" y1="392.40" y2="392.40" stroke="#00BFC4" stroke-width="1.89"/>
<circle cx="390.20" cy="392.40" r="5.8" fill="#00BFC4"/>
<text class="lg" x="418.40" y="397.00" text-anchor="middle">8</text>
<line x1="432.90" x2="453.50" y1="392.40" y2="392.40" stroke="#00B0F6" stroke-width="1.89"/>
<circle cx="443.20" cy="392.40" r="5.8" fill="#00B0F6"/>
<text class="lg" x="471.40" y="397.00" text-anchor="middle">10</text>
<line x1="489.80" x2="510.40" y1="392.40" y2="392.40" stroke="#9590FF" stroke-width="1.89"/>
<circle cx="500.10" cy="392.40" r="5.8" fill="#9590FF"/>
<text class="lg" x="528.30" y="397.00" text-anchor="middle">15</text>
<line x1="546.40" x2="567.00" y1="392.40" y2="392.40" stroke="#E76BF3" stroke-width="1.89"/>
<circle cx="556.70" cy="392.40" r="5.8" fill="#E76BF3"/>
<text class="lg" x="584.90" y="397.00" text-anchor="middle">20</text>
<line x1="603.10" x2="623.70" y1="392.40" y2="392.40" stroke="#FF62BC" stroke-width="1.89"/>
<circle cx="613.40" cy="392.40" r="5.8" fill="#FF62BC"/>
<text class="lg" x="641.60" y="397.00" text-anchor="middle">25</text>
</svg></body></html>
